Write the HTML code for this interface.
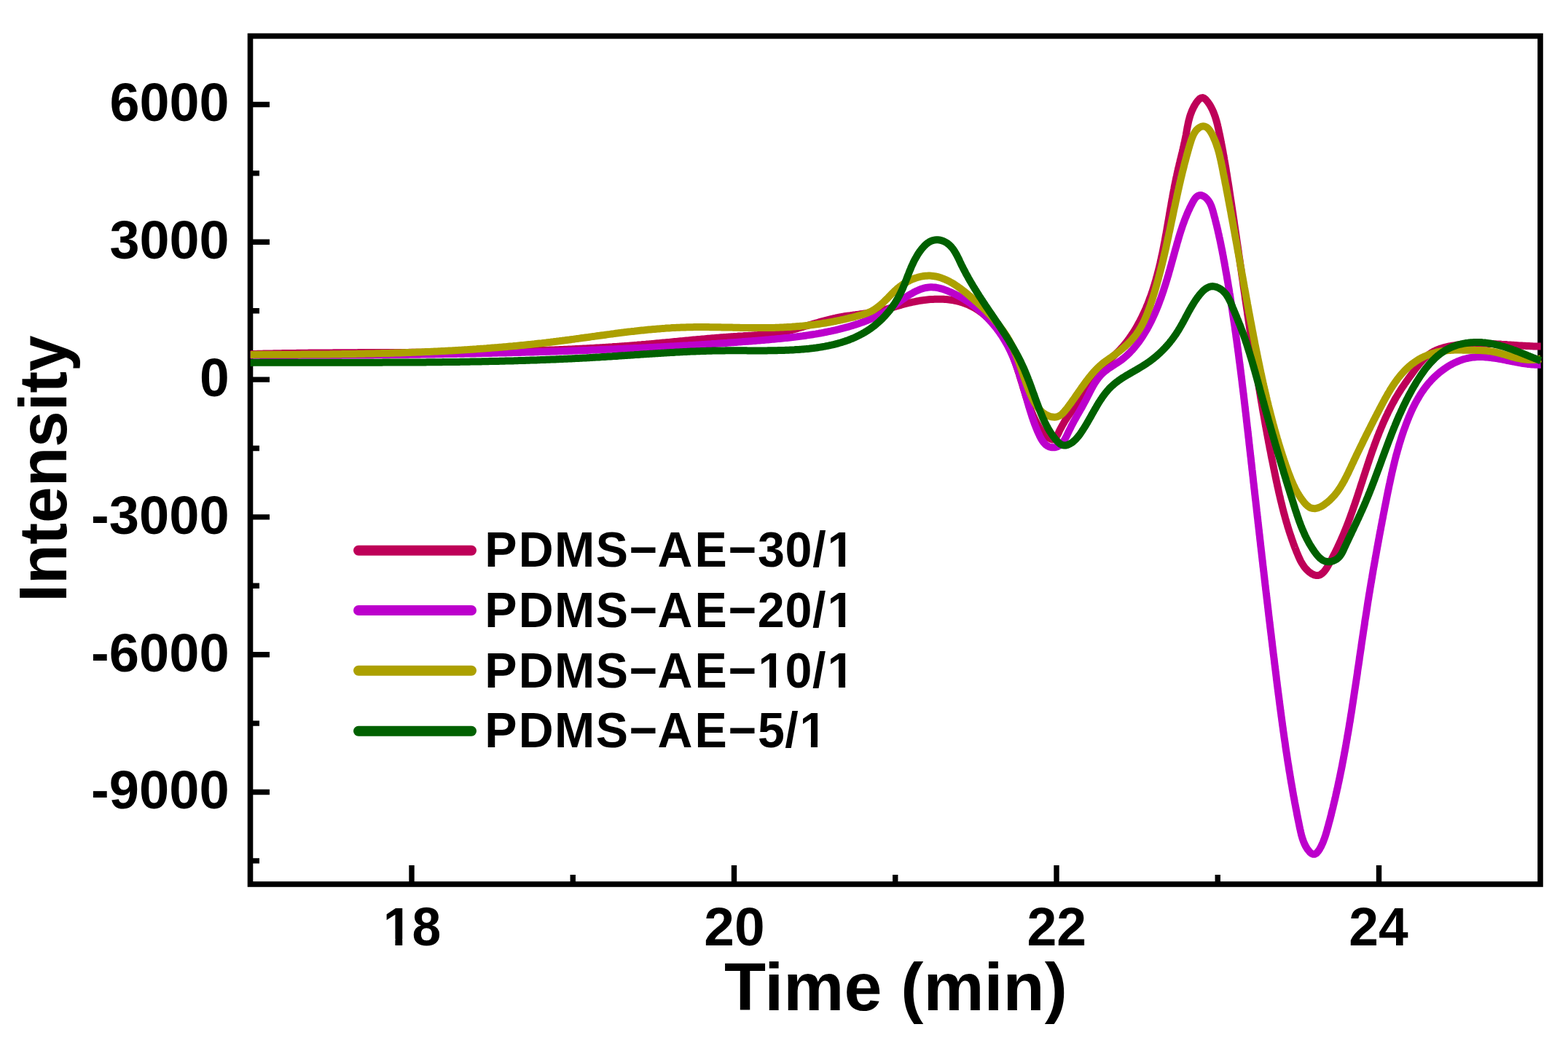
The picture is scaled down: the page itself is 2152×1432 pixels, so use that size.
<!DOCTYPE html><html><head><meta charset="utf-8"><title>GPC</title><style>html,body{margin:0;padding:0;background:#fff;}svg{display:block;}text{font-family:"Liberation Sans",Arial,sans-serif;font-weight:bold;fill:#000;}</style></head><body>
<svg width="2152" height="1432" viewBox="0 0 2152 1432">
<rect x="0" y="0" width="2152" height="1432" fill="#fff"/>
<rect x="343.5" y="49.5" width="1770.5" height="1164.5" fill="none" stroke="#000" stroke-width="7.6"/>
<path d="M343.5,143.50H370 M343.5,332.30H370 M343.5,521.10H370 M343.5,709.90H370 M343.5,898.70H370 M343.5,1087.50H370 M343.5,237.90H356 M343.5,426.70H356 M343.5,615.50H356 M343.5,804.30H356 M343.5,993.10H356 M343.5,1181.90H356 M565.00,1214.0V1188 M1007.50,1214.0V1188 M1450.00,1214.0V1188 M1892.50,1214.0V1188 M786.25,1214.0V1201 M1228.75,1214.0V1201 M1671.25,1214.0V1201" stroke="#000" stroke-width="7.4" fill="none"/>
<defs><clipPath id="nofoot"><path clip-rule="evenodd" d="M0,0H2152V1432H0Z M1138.14,770.02H1150.95V779.50H1138.14Z M1160.05,770.02H1172.02V779.50H1160.05Z M1138.19,852.79H1151.00V862.27H1138.19Z M1160.10,852.79H1172.07V862.27H1160.10Z M1043.09,935.56H1055.90V945.04H1043.09Z M1065.00,935.56H1076.97V945.04H1065.00Z M1138.19,935.56H1151.00V945.04H1138.19Z M1160.10,935.56H1172.07V945.04H1160.10Z M1100.09,1018.33H1112.90V1027.81H1100.09Z M1122.00,1018.33H1133.97V1027.81H1122.00Z M528.73,1289.31H542.41V1299.31H528.73Z M552.23,1289.31H565.00V1299.31H552.23Z"/></clipPath></defs>
<g clip-path="url(#nofoot)">
<text x="150.52" y="166.40" font-size="73.50" textLength="164.05" lengthAdjust="spacingAndGlyphs">6000</text>
<text x="150.52" y="355.20" font-size="73.50" textLength="164.05" lengthAdjust="spacingAndGlyphs">3000</text>
<text x="273.92" y="544.00" font-size="73.50" textLength="40.69" lengthAdjust="spacingAndGlyphs">0</text>
<text x="125.12" y="732.80" font-size="73.50" textLength="189.48" lengthAdjust="spacingAndGlyphs">-3000</text>
<text x="125.12" y="921.60" font-size="73.50" textLength="189.48" lengthAdjust="spacingAndGlyphs">-6000</text>
<text x="125.12" y="1110.40" font-size="73.50" textLength="189.48" lengthAdjust="spacingAndGlyphs">-9000</text>
<text x="525.72" y="1297.81" font-size="73.51" textLength="79.54" lengthAdjust="spacingAndGlyphs">18</text>
<text x="966.33" y="1297.81" font-size="73.51" textLength="83.29" lengthAdjust="spacingAndGlyphs">20</text>
<text x="1409.53" y="1297.81" font-size="73.51" textLength="81.63" lengthAdjust="spacingAndGlyphs">22</text>
<text x="1851.33" y="1297.81" font-size="73.51" textLength="81.39" lengthAdjust="spacingAndGlyphs">24</text>
<text x="993.96" y="1386.80" font-size="92.90" textLength="470.81" lengthAdjust="spacingAndGlyphs">Time (min)</text>
<text transform="translate(91.00,826.77) rotate(-90)" x="0" y="0" font-size="92.90" textLength="366.44" lengthAdjust="spacingAndGlyphs">Intensity</text>
<text transform="scale(0.9700,1)" x="685.86 733.68 784.45 843.06 890.32 930.46 982.94 1030.53 1072.15 1110.93 1149.67 1170.58" y="778.00" font-size="68.40">PDMS−AE−30/1</text>
<text transform="scale(0.9700,1)" x="685.86 733.68 784.45 843.06 890.32 930.46 982.94 1030.53 1071.83 1110.88 1149.62 1170.63" y="860.77" font-size="68.40">PDMS−AE−20/1</text>
<text transform="scale(0.9700,1)" x="685.86 733.68 784.45 843.06 890.32 930.46 982.94 1030.53 1072.59 1110.88 1149.62 1170.63" y="943.54" font-size="68.40">PDMS−AE−10/1</text>
<text transform="scale(0.9700,1)" x="685.86 733.68 784.45 843.06 890.32 930.46 982.94 1030.53 1072.06 1110.65 1131.35" y="1026.31" font-size="68.40">PDMS−AE−5/1</text>
</g>
<path d="M343.8,486.0L345.8,486.0L347.8,485.9L349.8,485.9L351.8,485.9L353.8,485.8L355.8,485.8L357.8,485.7L359.8,485.7L361.8,485.6L363.8,485.6L365.8,485.5L367.8,485.5L369.8,485.5L371.8,485.4L373.8,485.4L375.8,485.3L377.8,485.3L379.8,485.3L381.8,485.2L383.8,485.2L385.8,485.2L387.8,485.1L389.8,485.1L391.8,485.1L393.8,485.0L395.8,485.0L397.8,485.0L399.8,484.9L401.8,484.9L403.8,484.9L405.8,484.9L407.8,484.8L409.8,484.8L411.8,484.8L413.8,484.8L415.9,484.7L417.9,484.7L419.9,484.7L421.9,484.7L423.9,484.6L425.9,484.6L427.9,484.6L429.9,484.6L431.9,484.6L433.9,484.5L435.9,484.5L437.9,484.5L439.9,484.5L441.9,484.5L443.9,484.4L445.9,484.4L447.9,484.4L449.9,484.4L451.9,484.4L453.9,484.4L455.9,484.4L457.9,484.3L459.9,484.3L461.9,484.3L463.9,484.3L465.9,484.3L467.9,484.3L469.9,484.3L471.9,484.2L473.9,484.2L475.9,484.2L477.9,484.2L479.9,484.2L481.9,484.2L483.9,484.2L485.9,484.2L487.9,484.2L489.9,484.2L491.9,484.1L494.0,484.1L496.0,484.1L498.0,484.1L500.0,484.1L502.0,484.1L504.0,484.1L506.0,484.1L508.0,484.1L510.0,484.1L512.0,484.1L514.0,484.0L516.0,484.0L518.0,484.0L520.0,484.0L522.0,484.0L524.0,484.0L526.0,484.0L528.0,484.0L530.0,484.0L532.0,484.0L534.0,484.0L536.0,484.0L538.0,483.9L540.0,483.9L542.0,483.9L544.0,483.9L546.0,483.9L548.0,483.9L550.0,483.9L552.0,483.9L554.0,483.9L556.0,483.9L558.0,483.9L560.0,483.9L562.0,483.8L564.0,483.8L566.0,483.8L568.0,483.8L570.0,483.8L572.1,483.8L574.1,483.8L576.1,483.8L578.1,483.8L580.1,483.8L582.1,483.7L584.1,483.7L586.1,483.7L588.1,483.7L590.1,483.7L592.1,483.7L594.1,483.7L596.1,483.7L598.1,483.6L600.1,483.6L602.1,483.6L604.1,483.6L606.1,483.6L608.1,483.6L610.1,483.5L612.1,483.5L614.1,483.5L616.1,483.5L618.1,483.5L620.1,483.5L622.1,483.4L624.1,483.4L626.1,483.4L628.1,483.4L630.1,483.4L632.1,483.3L634.1,483.3L636.1,483.3L638.1,483.3L640.1,483.2L642.1,483.2L644.1,483.2L646.1,483.2L648.1,483.1L650.2,483.1L652.2,483.1L654.2,483.1L656.2,483.0L658.2,483.0L660.2,483.0L662.2,482.9L664.2,482.9L666.2,482.9L668.2,482.8L670.2,482.8L672.2,482.8L674.2,482.7L676.2,482.7L678.2,482.7L680.2,482.6L682.2,482.6L684.2,482.6L686.2,482.5L688.2,482.5L690.2,482.4L692.2,482.4L694.2,482.4L696.2,482.3L698.2,482.3L700.2,482.2L702.2,482.2L704.2,482.1L706.2,482.1L708.2,482.0L710.2,482.0L712.2,481.9L714.2,481.9L716.2,481.8L718.2,481.8L720.2,481.7L722.2,481.7L724.2,481.6L726.2,481.5L728.2,481.5L730.2,481.4L732.2,481.4L734.2,481.3L736.2,481.2L738.2,481.2L740.2,481.1L742.2,481.0L744.2,481.0L746.2,480.9L748.3,480.8L750.3,480.8L752.3,480.7L754.3,480.6L756.3,480.6L758.3,480.5L760.3,480.4L762.3,480.3L764.3,480.2L766.3,480.2L768.3,480.1L770.3,480.0L772.3,479.9L774.3,479.8L776.3,479.7L778.3,479.7L780.3,479.6L782.3,479.5L784.3,479.4L786.3,479.3L788.3,479.2L790.3,479.1L792.3,479.0L794.3,478.9L796.3,478.8L798.3,478.7L800.3,478.6L802.3,478.5L804.3,478.4L806.3,478.3L808.3,478.2L810.3,478.1L812.3,478.0L814.3,477.9L816.3,477.7L818.3,477.6L820.3,477.5L822.3,477.4L824.3,477.3L826.3,477.2L828.3,477.0L830.3,476.9L832.3,476.8L834.3,476.7L836.3,476.5L838.3,476.4L840.3,476.3L842.3,476.1L844.3,476.0L846.2,475.9L848.2,475.7L850.2,475.6L852.2,475.4L854.2,475.3L856.2,475.2L858.2,475.0L860.2,474.9L862.2,474.7L864.2,474.6L866.2,474.4L868.2,474.2L870.2,474.1L872.2,473.9L874.2,473.8L876.2,473.6L878.2,473.4L880.2,473.3L882.2,473.1L884.2,472.9L886.2,472.8L888.2,472.6L890.2,472.4L892.2,472.2L894.2,472.1L896.2,471.9L898.2,471.7L900.1,471.5L902.1,471.3L904.1,471.2L906.1,471.0L908.1,470.8L910.1,470.6L912.1,470.4L914.1,470.2L916.1,470.0L918.1,469.9L920.1,469.7L922.1,469.5L924.1,469.3L926.1,469.1L928.1,468.9L930.1,468.7L932.0,468.5L934.0,468.3L936.0,468.2L938.0,468.0L940.0,467.8L942.0,467.6L944.0,467.4L946.0,467.2L948.0,467.0L950.0,466.8L952.0,466.6L954.0,466.5L956.0,466.3L958.0,466.1L960.0,465.9L962.0,465.7L963.9,465.5L965.9,465.4L967.9,465.2L969.9,465.0L971.9,464.8L973.9,464.7L975.9,464.5L977.9,464.3L979.9,464.2L981.9,464.0L983.9,463.8L985.9,463.7L987.9,463.5L989.9,463.3L991.9,463.2L993.9,463.0L995.9,462.9L997.9,462.7L999.9,462.6L1001.9,462.4L1003.9,462.3L1005.9,462.2L1007.9,462.0L1009.9,461.9L1011.9,461.8L1013.9,461.6L1015.9,461.5L1017.9,461.4L1019.9,461.3L1021.9,461.1L1023.9,461.0L1025.9,460.9L1027.9,460.8L1029.9,460.7L1031.9,460.6L1033.9,460.4L1035.8,460.3L1037.8,460.2L1039.8,460.1L1041.8,459.9L1043.8,459.8L1045.8,459.6L1047.8,459.4L1049.8,459.3L1051.8,459.1L1053.8,458.9L1055.8,458.6L1057.8,458.4L1059.8,458.2L1061.8,457.9L1063.7,457.6L1065.7,457.3L1067.7,457.0L1069.7,456.7L1071.7,456.3L1073.6,456.0L1075.6,455.6L1077.5,455.2L1079.5,454.7L1081.5,454.3L1083.4,453.8L1085.3,453.3L1087.3,452.8L1089.2,452.3L1091.2,451.8L1093.1,451.3L1095.0,450.8L1096.9,450.2L1098.9,449.7L1100.8,449.1L1102.7,448.6L1104.6,448.0L1106.6,447.5L1108.5,446.9L1110.4,446.3L1112.3,445.8L1114.3,445.2L1116.2,444.6L1118.1,444.1L1120.0,443.5L1122.0,443.0L1123.9,442.4L1125.8,441.9L1127.7,441.3L1129.7,440.8L1131.6,440.3L1133.5,439.8L1135.5,439.3L1137.4,438.8L1139.4,438.3L1141.3,437.8L1143.3,437.4L1145.2,437.0L1147.2,436.5L1149.1,436.1L1151.1,435.7L1153.1,435.3L1155.0,435.0L1157.0,434.6L1159.0,434.3L1161.0,434.0L1162.9,433.7L1164.9,433.4L1166.9,433.2L1168.9,432.9L1170.9,432.6L1172.9,432.4L1174.8,432.1L1176.8,431.9L1178.8,431.6L1180.8,431.3L1182.8,431.1L1184.8,430.8L1186.8,430.5L1188.7,430.3L1190.7,430.0L1192.7,429.6L1194.7,429.3L1196.7,429.0L1198.6,428.6L1200.6,428.2L1202.5,427.8L1204.5,427.4L1206.5,427.0L1208.4,426.5L1210.4,426.0L1212.3,425.5L1214.2,425.0L1216.2,424.5L1218.1,424.0L1220.0,423.5L1222.0,422.9L1223.9,422.4L1225.8,421.8L1227.7,421.3L1229.7,420.7L1231.6,420.2L1233.5,419.6L1235.4,419.1L1237.4,418.5L1239.3,418.0L1241.2,417.5L1243.2,417.0L1245.1,416.5L1247.1,416.0L1249.0,415.5L1251.0,415.1L1252.9,414.7L1254.9,414.3L1256.8,413.9L1258.8,413.5L1260.8,413.1L1262.7,412.8L1264.7,412.5L1266.7,412.2L1268.7,411.9L1270.7,411.7L1272.7,411.5L1274.7,411.3L1276.7,411.1L1278.7,411.0L1280.7,410.9L1282.7,410.8L1284.7,410.7L1286.7,410.7L1288.7,410.7L1290.7,410.7L1292.7,410.8L1294.7,410.8L1296.7,411.0L1298.7,411.1L1300.7,411.3L1302.7,411.5L1304.6,411.8L1306.6,412.1L1308.6,412.4L1310.6,412.8L1312.5,413.2L1314.5,413.7L1316.4,414.1L1318.3,414.7L1320.3,415.3L1322.2,415.9L1324.0,416.6L1325.9,417.3L1327.8,418.0L1329.6,418.8L1331.4,419.7L1333.2,420.6L1335.0,421.5L1336.7,422.5L1338.5,423.5L1340.2,424.5L1341.9,425.6L1343.5,426.7L1345.2,427.9L1346.8,429.1L1348.4,430.3L1349.9,431.5L1351.5,432.8L1353.0,434.1L1354.5,435.5L1355.9,436.8L1357.4,438.2L1358.8,439.6L1360.2,441.1L1361.6,442.5L1362.9,444.0L1364.3,445.5L1365.6,447.0L1366.8,448.6L1368.1,450.1L1369.3,451.7L1370.5,453.3L1371.7,454.9L1372.9,456.5L1374.0,458.2L1375.1,459.9L1376.2,461.5L1377.3,463.2L1378.3,464.9L1379.3,466.7L1380.3,468.4L1381.3,470.2L1382.2,471.9L1383.2,473.7L1384.1,475.5L1384.9,477.3L1385.8,479.1L1386.6,480.9L1387.5,482.8L1388.2,484.6L1389.0,486.4L1389.8,488.3L1390.5,490.1L1391.3,492.0L1392.0,493.9L1392.7,495.8L1393.4,497.6L1394.0,499.5L1394.7,501.4L1395.3,503.3L1396.0,505.2L1396.6,507.1L1397.2,509.0L1397.8,510.9L1398.5,512.8L1399.1,514.7L1399.6,516.7L1400.2,518.6L1400.8,520.5L1401.4,522.4L1402.0,524.3L1402.6,526.2L1403.2,528.1L1403.7,530.1L1404.3,532.0L1404.9,533.9L1405.5,535.8L1406.1,537.7L1406.7,539.6L1407.3,541.5L1407.9,543.4L1408.5,545.3L1409.2,547.2L1409.8,549.1L1410.4,551.0L1411.1,552.9L1411.8,554.8L1412.5,556.7L1413.1,558.6L1413.9,560.5L1414.6,562.3L1415.3,564.2L1416.1,566.0L1416.8,567.9L1417.6,569.7L1418.4,571.6L1419.3,573.4L1420.1,575.2L1421.0,577.0L1421.9,578.8L1422.8,580.6L1423.7,582.4L1424.7,584.1L1425.7,585.9L1426.7,587.6L1427.8,589.2L1428.9,590.9L1430.1,592.5L1431.4,594.1L1432.7,595.6L1434.1,597.0L1435.6,598.4L1437.1,599.6L1438.7,600.8L1440.4,601.9L1442.2,602.8L1444.1,603.4L1446.1,603.4L1447.8,602.4L1449.1,600.9L1450.3,599.2L1451.2,597.5L1452.1,595.7L1453.0,593.9L1453.8,592.1L1454.7,590.3L1455.6,588.5L1456.6,586.7L1457.5,584.9L1458.5,583.2L1459.5,581.5L1460.5,579.7L1461.5,578.0L1462.6,576.3L1463.7,574.6L1464.8,573.0L1465.9,571.3L1467.0,569.7L1468.2,568.0L1469.3,566.4L1470.5,564.8L1471.7,563.1L1472.8,561.5L1473.9,559.8L1475.1,558.2L1476.2,556.5L1477.3,554.9L1478.4,553.2L1479.5,551.5L1480.6,549.8L1481.7,548.1L1482.8,546.5L1483.8,544.8L1484.9,543.1L1486.0,541.4L1487.0,539.7L1488.1,538.0L1489.2,536.3L1490.3,534.6L1491.4,532.9L1492.4,531.3L1493.5,529.6L1494.6,527.9L1495.8,526.2L1496.9,524.6L1498.0,522.9L1499.2,521.3L1500.3,519.7L1501.5,518.1L1502.7,516.4L1503.9,514.9L1505.2,513.3L1506.4,511.7L1507.7,510.2L1509.0,508.6L1510.3,507.1L1511.6,505.6L1513.0,504.1L1514.3,502.7L1515.7,501.2L1517.1,499.8L1518.5,498.4L1520.0,497.0L1521.4,495.6L1522.8,494.2L1524.3,492.8L1525.7,491.4L1527.2,490.0L1528.6,488.6L1530.0,487.2L1531.5,485.8L1532.9,484.4L1534.3,483.0L1535.7,481.6L1537.1,480.1L1538.4,478.7L1539.8,477.2L1541.1,475.7L1542.4,474.2L1543.7,472.6L1545.0,471.1L1546.2,469.5L1547.4,467.9L1548.6,466.3L1549.8,464.7L1551.0,463.0L1552.1,461.4L1553.2,459.7L1554.3,458.1L1555.4,456.4L1556.5,454.7L1557.5,453.0L1558.6,451.3L1559.6,449.5L1560.6,447.8L1561.5,446.1L1562.5,444.3L1563.5,442.5L1564.4,440.8L1565.3,439.0L1566.2,437.2L1567.1,435.4L1568.0,433.6L1568.9,431.8L1569.7,430.0L1570.5,428.2L1571.4,426.3L1572.2,424.5L1573.0,422.7L1573.7,420.8L1574.5,419.0L1575.3,417.1L1576.0,415.3L1576.7,413.4L1577.4,411.5L1578.1,409.6L1578.8,407.8L1579.5,405.9L1580.2,404.0L1580.8,402.1L1581.5,400.2L1582.1,398.3L1582.7,396.4L1583.3,394.5L1583.9,392.6L1584.5,390.7L1585.1,388.7L1585.6,386.8L1586.2,384.9L1586.7,383.0L1587.3,381.0L1587.8,379.1L1588.3,377.2L1588.8,375.2L1589.3,373.3L1589.8,371.4L1590.3,369.4L1590.8,367.5L1591.3,365.5L1591.7,363.6L1592.2,361.6L1592.6,359.7L1593.1,357.7L1593.5,355.8L1593.9,353.8L1594.4,351.8L1594.8,349.9L1595.2,347.9L1595.6,346.0L1596.0,344.0L1596.4,342.0L1596.8,340.1L1597.2,338.1L1597.5,336.1L1597.9,334.2L1598.3,332.2L1598.7,330.2L1599.0,328.3L1599.4,326.3L1599.7,324.3L1600.1,322.4L1600.5,320.4L1600.8,318.4L1601.2,316.5L1601.5,314.5L1601.8,312.5L1602.2,310.5L1602.5,308.6L1602.9,306.6L1603.2,304.6L1603.6,302.6L1603.9,300.7L1604.2,298.7L1604.6,296.7L1604.9,294.7L1605.2,292.8L1605.6,290.8L1605.9,288.8L1606.3,286.8L1606.6,284.9L1607.0,282.9L1607.3,280.9L1607.6,279.0L1608.0,277.0L1608.3,275.0L1608.7,273.0L1609.1,271.1L1609.4,269.1L1609.8,267.1L1610.1,265.2L1610.5,263.2L1610.9,261.2L1611.3,259.3L1611.6,257.3L1612.0,255.3L1612.4,253.4L1612.8,251.4L1613.2,249.4L1613.6,247.5L1614.0,245.5L1614.4,243.6L1614.9,241.6L1615.3,239.6L1615.7,237.7L1616.2,235.7L1616.6,233.8L1617.1,231.8L1617.5,229.9L1618.0,227.9L1618.4,226.0L1618.9,224.0L1619.4,222.1L1619.8,220.1L1620.3,218.2L1620.8,216.3L1621.3,214.3L1621.7,212.4L1622.2,210.4L1622.7,208.5L1623.1,206.5L1623.6,204.6L1624.0,202.6L1624.5,200.7L1624.9,198.7L1625.3,196.7L1625.8,194.8L1626.2,192.8L1626.6,190.9L1627.0,188.9L1627.4,186.9L1627.8,185.0L1628.1,183.0L1628.5,181.0L1628.8,179.1L1629.2,177.1L1629.5,175.1L1629.9,173.2L1630.3,171.2L1630.7,169.2L1631.1,167.3L1631.6,165.3L1632.1,163.4L1632.6,161.5L1633.2,159.5L1633.8,157.6L1634.5,155.7L1635.2,153.9L1635.9,152.0L1636.8,150.2L1637.6,148.4L1638.5,146.6L1639.5,144.9L1640.5,143.1L1641.6,141.4L1642.7,139.8L1644.0,138.2L1645.3,136.7L1646.8,135.4L1648.6,134.4L1650.5,134.1L1652.4,134.7L1654.0,135.9L1655.4,137.3L1656.7,138.9L1657.9,140.4L1659.1,142.1L1660.2,143.7L1661.2,145.4L1662.2,147.2L1663.1,149.0L1664.0,150.8L1664.8,152.6L1665.6,154.4L1666.3,156.3L1667.0,158.2L1667.7,160.1L1668.3,162.0L1668.9,163.9L1669.4,165.8L1670.0,167.8L1670.5,169.7L1671.0,171.6L1671.4,173.6L1671.9,175.5L1672.3,177.5L1672.7,179.4L1673.1,181.4L1673.6,183.4L1674.0,185.3L1674.4,187.3L1674.8,189.2L1675.2,191.2L1675.6,193.2L1675.9,195.1L1676.3,197.1L1676.7,199.1L1677.1,201.0L1677.5,203.0L1677.8,205.0L1678.2,206.9L1678.6,208.9L1678.9,210.9L1679.3,212.9L1679.6,214.8L1680.0,216.8L1680.3,218.8L1680.7,220.7L1681.0,222.7L1681.4,224.7L1681.7,226.7L1682.0,228.6L1682.4,230.6L1682.7,232.6L1683.0,234.6L1683.3,236.5L1683.7,238.5L1684.0,240.5L1684.3,242.5L1684.6,244.4L1684.9,246.4L1685.2,248.4L1685.6,250.4L1685.9,252.4L1686.2,254.3L1686.5,256.3L1686.8,258.3L1687.1,260.3L1687.4,262.3L1687.7,264.2L1688.0,266.2L1688.3,268.2L1688.6,270.2L1688.9,272.2L1689.2,274.1L1689.5,276.1L1689.8,278.1L1690.1,280.1L1690.4,282.1L1690.7,284.0L1691.0,286.0L1691.3,288.0L1691.6,290.0L1691.9,292.0L1692.2,293.9L1692.5,295.9L1692.8,297.9L1693.1,299.9L1693.4,301.9L1693.7,303.8L1693.9,305.8L1694.2,307.8L1694.5,309.8L1694.8,311.8L1695.1,313.7L1695.4,315.7L1695.7,317.7L1696.0,319.7L1696.3,321.7L1696.6,323.7L1696.9,325.6L1697.1,327.6L1697.4,329.6L1697.7,331.6L1698.0,333.6L1698.3,335.5L1698.6,337.5L1698.9,339.5L1699.2,341.5L1699.5,343.5L1699.7,345.5L1700.0,347.4L1700.3,349.4L1700.6,351.4L1700.9,353.4L1701.2,355.4L1701.5,357.3L1701.8,359.3L1702.0,361.3L1702.3,363.3L1702.6,365.3L1702.9,367.3L1703.2,369.2L1703.5,371.2L1703.8,373.2L1704.0,375.2L1704.3,377.2L1704.6,379.1L1704.9,381.1L1705.2,383.1L1705.5,385.1L1705.8,387.1L1706.1,389.1L1706.3,391.0L1706.6,393.0L1706.9,395.0L1707.2,397.0L1707.5,399.0L1707.8,400.9L1708.1,402.9L1708.4,404.9L1708.7,406.9L1708.9,408.9L1709.2,410.9L1709.5,412.8L1709.8,414.8L1710.1,416.8L1710.4,418.8L1710.7,420.8L1711.0,422.7L1711.3,424.7L1711.6,426.7L1711.9,428.7L1712.1,430.7L1712.4,432.6L1712.7,434.6L1713.0,436.6L1713.3,438.6L1713.6,440.6L1713.9,442.6L1714.2,444.5L1714.5,446.5L1714.8,448.5L1715.1,450.5L1715.4,452.5L1715.7,454.4L1716.0,456.4L1716.3,458.4L1716.6,460.4L1716.9,462.4L1717.2,464.3L1717.5,466.3L1717.8,468.3L1718.1,470.3L1718.4,472.3L1718.7,474.2L1719.0,476.2L1719.3,478.2L1719.6,480.2L1719.9,482.2L1720.2,484.1L1720.5,486.1L1720.8,488.1L1721.2,490.1L1721.5,492.0L1721.8,494.0L1722.1,496.0L1722.4,498.0L1722.7,500.0L1723.0,501.9L1723.3,503.9L1723.6,505.9L1724.0,507.9L1724.3,509.8L1724.6,511.8L1724.9,513.8L1725.2,515.8L1725.6,517.8L1725.9,519.7L1726.2,521.7L1726.5,523.7L1726.8,525.7L1727.2,527.6L1727.5,529.6L1727.8,531.6L1728.1,533.6L1728.5,535.5L1728.8,537.5L1729.1,539.5L1729.5,541.5L1729.8,543.4L1730.1,545.4L1730.5,547.4L1730.8,549.4L1731.1,551.3L1731.5,553.3L1731.8,555.3L1732.2,557.3L1732.5,559.2L1732.8,561.2L1733.2,563.2L1733.5,565.2L1733.9,567.1L1734.2,569.1L1734.6,571.1L1734.9,573.0L1735.3,575.0L1735.6,577.0L1736.0,579.0L1736.3,580.9L1736.7,582.9L1737.0,584.9L1737.4,586.8L1737.7,588.8L1738.1,590.8L1738.5,592.8L1738.8,594.7L1739.2,596.7L1739.6,598.7L1739.9,600.6L1740.3,602.6L1740.7,604.6L1741.0,606.5L1741.4,608.5L1741.8,610.5L1742.2,612.4L1742.5,614.4L1742.9,616.4L1743.3,618.3L1743.7,620.3L1744.1,622.3L1744.4,624.2L1744.8,626.2L1745.2,628.2L1745.6,630.1L1746.0,632.1L1746.4,634.1L1746.8,636.0L1747.2,638.0L1747.6,639.9L1748.0,641.9L1748.4,643.9L1748.8,645.8L1749.2,647.8L1749.6,649.8L1750.0,651.7L1750.4,653.7L1750.8,655.6L1751.2,657.6L1751.6,659.6L1752.0,661.5L1752.5,663.5L1752.9,665.4L1753.3,667.4L1753.7,669.3L1754.2,671.3L1754.6,673.3L1755.0,675.2L1755.5,677.2L1755.9,679.1L1756.4,681.1L1756.8,683.0L1757.3,685.0L1757.7,686.9L1758.2,688.9L1758.7,690.8L1759.2,692.8L1759.6,694.7L1760.1,696.6L1760.6,698.6L1761.1,700.5L1761.6,702.5L1762.1,704.4L1762.6,706.3L1763.2,708.3L1763.7,710.2L1764.2,712.1L1764.8,714.1L1765.3,716.0L1765.9,717.9L1766.5,719.8L1767.0,721.7L1767.6,723.7L1768.2,725.6L1768.8,727.5L1769.4,729.4L1770.0,731.3L1770.6,733.2L1771.3,735.1L1771.9,737.0L1772.6,738.9L1773.2,740.8L1773.9,742.7L1774.6,744.6L1775.2,746.4L1775.9,748.3L1776.6,750.2L1777.3,752.1L1778.1,753.9L1778.8,755.8L1779.5,757.7L1780.3,759.5L1781.1,761.4L1781.8,763.2L1782.6,765.0L1783.5,766.9L1784.3,768.7L1785.2,770.5L1786.2,772.2L1787.2,773.9L1788.3,775.6L1789.4,777.3L1790.6,778.9L1791.9,780.4L1793.2,781.9L1794.6,783.3L1796.1,784.7L1797.7,785.9L1799.3,787.1L1801.0,788.1L1802.8,789.0L1804.7,789.7L1806.7,790.1L1808.7,790.1L1810.6,789.7L1812.4,788.9L1814.1,787.7L1815.6,786.4L1817.0,785.0L1818.3,783.4L1819.5,781.8L1820.6,780.2L1821.6,778.5L1822.7,776.7L1823.6,775.0L1824.6,773.2L1825.6,771.5L1826.5,769.7L1827.5,768.0L1828.4,766.2L1829.3,764.4L1830.2,762.6L1831.2,760.8L1832.1,759.1L1833.0,757.3L1833.8,755.5L1834.7,753.7L1835.6,751.9L1836.4,750.1L1837.3,748.2L1838.1,746.4L1839.0,744.6L1839.8,742.8L1840.6,740.9L1841.4,739.1L1842.2,737.3L1843.0,735.4L1843.8,733.6L1844.6,731.7L1845.3,729.9L1846.1,728.0L1846.8,726.2L1847.6,724.3L1848.3,722.5L1849.0,720.6L1849.8,718.7L1850.5,716.9L1851.2,715.0L1851.9,713.1L1852.6,711.2L1853.3,709.4L1853.9,707.5L1854.6,705.6L1855.3,703.7L1856.0,701.8L1856.6,699.9L1857.3,698.0L1857.9,696.1L1858.6,694.2L1859.2,692.4L1859.9,690.5L1860.5,688.6L1861.2,686.7L1861.8,684.8L1862.4,682.9L1863.1,681.0L1863.7,679.1L1864.3,677.2L1864.9,675.2L1865.6,673.3L1866.2,671.4L1866.8,669.5L1867.4,667.6L1868.0,665.7L1868.6,663.8L1869.3,661.9L1869.9,660.0L1870.5,658.1L1871.1,656.2L1871.7,654.3L1872.3,652.4L1873.0,650.5L1873.6,648.6L1874.2,646.7L1874.8,644.8L1875.5,642.9L1876.1,641.0L1876.7,639.1L1877.3,637.2L1878.0,635.3L1878.6,633.4L1879.2,631.5L1879.9,629.6L1880.5,627.7L1881.2,625.8L1881.8,623.9L1882.5,622.0L1883.1,620.1L1883.8,618.2L1884.5,616.3L1885.2,614.4L1885.8,612.6L1886.5,610.7L1887.2,608.8L1887.9,606.9L1888.6,605.0L1889.3,603.2L1890.0,601.3L1890.7,599.4L1891.5,597.6L1892.2,595.7L1892.9,593.8L1893.7,592.0L1894.5,590.1L1895.2,588.3L1896.0,586.4L1896.8,584.6L1897.5,582.7L1898.3,580.9L1899.1,579.1L1900.0,577.2L1900.8,575.4L1901.6,573.6L1902.5,571.8L1903.3,570.0L1904.2,568.2L1905.0,566.3L1905.9,564.5L1906.8,562.8L1907.7,561.0L1908.6,559.2L1909.5,557.4L1910.5,555.6L1911.4,553.9L1912.4,552.1L1913.4,550.4L1914.3,548.6L1915.3,546.9L1916.3,545.1L1917.4,543.4L1918.4,541.7L1919.4,540.0L1920.5,538.3L1921.6,536.6L1922.6,534.9L1923.7,533.2L1924.8,531.6L1926.0,529.9L1927.1,528.3L1928.2,526.6L1929.4,525.0L1930.5,523.3L1931.7,521.7L1932.8,520.1L1934.0,518.4L1935.2,516.8L1936.4,515.2L1937.6,513.6L1938.7,512.0L1939.9,510.4L1941.1,508.7L1942.3,507.1L1943.5,505.5L1944.7,503.9L1946.0,502.4L1947.2,500.8L1948.5,499.2L1949.8,497.7L1951.1,496.2L1952.4,494.7L1953.8,493.3L1955.2,491.8L1956.7,490.5L1958.1,489.1L1959.7,487.8L1961.3,486.6L1962.9,485.4L1964.6,484.3L1966.3,483.3L1968.0,482.3L1969.8,481.5L1971.7,480.6L1973.5,479.9L1975.4,479.2L1977.3,478.5L1979.2,477.9L1981.1,477.3L1983.0,476.8L1985.0,476.3L1986.9,475.9L1988.9,475.5L1990.9,475.1L1992.8,474.7L1994.8,474.4L1996.8,474.1L1998.8,473.8L2000.7,473.5L2002.7,473.2L2004.7,473.0L2006.7,472.8L2008.7,472.6L2010.7,472.4L2012.7,472.3L2014.7,472.1L2016.7,472.0L2018.7,471.9L2020.7,471.8L2022.7,471.8L2024.7,471.7L2026.7,471.7L2028.7,471.7L2030.7,471.7L2032.7,471.7L2034.7,471.7L2036.7,471.7L2038.7,471.8L2040.7,471.8L2042.7,471.9L2044.7,471.9L2046.7,472.0L2048.7,472.1L2050.7,472.2L2052.7,472.3L2054.7,472.4L2056.7,472.5L2058.7,472.6L2060.7,472.8L2062.7,472.9L2064.7,473.0L2066.7,473.1L2068.7,473.3L2070.7,473.4L2072.7,473.5L2074.7,473.7L2076.7,473.8L2078.7,474.0L2080.7,474.1L2082.7,474.2L2084.7,474.4L2086.7,474.5L2088.7,474.6L2090.7,474.7L2092.7,474.8L2094.7,475.0L2096.7,475.1L2098.7,475.1L2100.7,475.2L2102.7,475.3L2104.7,475.4L2106.7,475.5L2108.7,475.5L2110.7,475.5L2112.7,475.6L2114.7,475.6" fill="none" stroke="#BE0058" stroke-width="10.0" stroke-linejoin="round" stroke-linecap="butt"/>
<path d="M343.7,487.8L345.7,487.8L347.8,487.8L349.8,487.8L351.8,487.8L353.8,487.8L355.8,487.8L357.8,487.9L359.8,487.9L361.8,487.9L363.8,487.9L365.8,487.9L367.8,487.9L369.8,487.9L371.8,487.9L373.8,487.9L375.8,487.9L377.8,487.9L379.8,487.9L381.8,487.9L383.8,487.9L385.8,487.9L387.8,487.9L389.8,487.9L391.8,487.9L393.8,487.9L395.8,487.9L397.8,487.9L399.8,487.9L401.8,487.9L403.8,487.9L405.8,487.9L407.8,487.9L409.8,487.8L411.8,487.8L413.8,487.8L415.8,487.8L417.8,487.8L419.8,487.8L421.8,487.8L423.8,487.8L425.8,487.8L427.8,487.8L429.8,487.8L431.8,487.8L433.8,487.8L435.9,487.8L437.9,487.8L439.9,487.8L441.9,487.8L443.9,487.8L445.9,487.8L447.9,487.7L449.9,487.7L451.9,487.7L453.9,487.7L455.9,487.7L457.9,487.7L459.9,487.7L461.9,487.7L463.9,487.7L465.9,487.7L467.9,487.7L469.9,487.6L471.9,487.6L473.9,487.6L475.9,487.6L477.9,487.6L479.9,487.6L481.9,487.6L483.9,487.6L485.9,487.5L487.9,487.5L489.9,487.5L491.9,487.5L493.9,487.5L495.9,487.5L497.9,487.5L499.9,487.5L501.9,487.4L503.9,487.4L505.9,487.4L507.9,487.4L509.9,487.4L511.9,487.4L513.9,487.3L515.9,487.3L517.9,487.3L519.9,487.3L521.9,487.3L523.9,487.2L526.0,487.2L528.0,487.2L530.0,487.2L532.0,487.2L534.0,487.2L536.0,487.1L538.0,487.1L540.0,487.1L542.0,487.1L544.0,487.0L546.0,487.0L548.0,487.0L550.0,487.0L552.0,487.0L554.0,486.9L556.0,486.9L558.0,486.9L560.0,486.9L562.0,486.8L564.0,486.8L566.0,486.8L568.0,486.8L570.0,486.7L572.0,486.7L574.0,486.7L576.0,486.7L578.0,486.6L580.0,486.6L582.0,486.6L584.0,486.5L586.0,486.5L588.0,486.5L590.0,486.5L592.0,486.4L594.0,486.4L596.0,486.4L598.0,486.3L600.0,486.3L602.0,486.3L604.0,486.2L606.0,486.2L608.0,486.2L610.0,486.1L612.0,486.1L614.0,486.1L616.0,486.0L618.0,486.0L620.0,486.0L622.1,485.9L624.1,485.9L626.1,485.9L628.1,485.8L630.1,485.8L632.1,485.7L634.1,485.7L636.1,485.7L638.1,485.6L640.1,485.6L642.1,485.6L644.1,485.5L646.1,485.5L648.1,485.4L650.1,485.4L652.1,485.4L654.1,485.3L656.1,485.3L658.1,485.2L660.1,485.2L662.1,485.1L664.1,485.1L666.1,485.1L668.1,485.0L670.1,485.0L672.1,484.9L674.1,484.9L676.1,484.8L678.1,484.8L680.1,484.7L682.1,484.7L684.1,484.6L686.1,484.6L688.1,484.5L690.1,484.5L692.1,484.4L694.1,484.4L696.1,484.3L698.1,484.3L700.1,484.2L702.1,484.2L704.1,484.1L706.1,484.1L708.1,484.0L710.1,484.0L712.1,483.9L714.1,483.9L716.1,483.8L718.1,483.8L720.1,483.7L722.1,483.6L724.1,483.6L726.1,483.5L728.1,483.5L730.1,483.4L732.1,483.4L734.1,483.3L736.1,483.2L738.1,483.2L740.2,483.1L742.2,483.1L744.2,483.0L746.2,482.9L748.2,482.9L750.2,482.8L752.2,482.7L754.2,482.7L756.2,482.6L758.2,482.6L760.2,482.5L762.2,482.4L764.2,482.4L766.2,482.3L768.2,482.2L770.2,482.2L772.2,482.1L774.2,482.0L776.2,481.9L778.2,481.9L780.2,481.8L782.2,481.7L784.2,481.7L786.2,481.6L788.2,481.5L790.2,481.5L792.2,481.4L794.2,481.3L796.2,481.2L798.2,481.2L800.2,481.1L802.2,481.0L804.2,480.9L806.2,480.9L808.2,480.8L810.2,480.7L812.2,480.6L814.2,480.5L816.2,480.5L818.2,480.4L820.2,480.3L822.2,480.2L824.2,480.1L826.2,480.1L828.2,480.0L830.2,479.9L832.2,479.8L834.2,479.7L836.2,479.7L838.2,479.6L840.2,479.5L842.2,479.4L844.2,479.3L846.2,479.2L848.2,479.1L850.2,479.0L852.2,479.0L854.2,478.9L856.2,478.8L858.2,478.7L860.2,478.6L862.2,478.5L864.2,478.4L866.2,478.3L868.2,478.2L870.2,478.1L872.2,478.0L874.2,478.0L876.2,477.9L878.2,477.8L880.2,477.7L882.2,477.6L884.2,477.5L886.2,477.4L888.2,477.3L890.2,477.2L892.2,477.1L894.2,477.0L896.2,476.9L898.2,476.8L900.2,476.7L902.2,476.6L904.2,476.5L906.2,476.4L908.2,476.3L910.2,476.2L912.2,476.0L914.2,475.9L916.2,475.8L918.2,475.7L920.2,475.6L922.2,475.5L924.2,475.4L926.2,475.3L928.2,475.2L930.2,475.1L932.2,475.0L934.2,474.8L936.2,474.7L938.2,474.6L940.2,474.5L942.2,474.4L944.2,474.3L946.2,474.1L948.2,474.0L950.2,473.9L952.2,473.8L954.2,473.7L956.2,473.5L958.2,473.4L960.2,473.3L962.2,473.2L964.2,473.0L966.2,472.9L968.2,472.8L970.2,472.7L972.2,472.5L974.2,472.4L976.2,472.3L978.2,472.1L980.2,472.0L982.2,471.9L984.1,471.7L986.1,471.6L988.1,471.5L990.1,471.3L992.1,471.2L994.1,471.0L996.1,470.9L998.1,470.8L1000.1,470.6L1002.1,470.5L1004.1,470.3L1006.1,470.2L1008.1,470.0L1010.1,469.9L1012.1,469.7L1014.1,469.6L1016.1,469.4L1018.1,469.3L1020.1,469.1L1022.1,469.0L1024.1,468.8L1026.1,468.7L1028.1,468.5L1030.1,468.4L1032.1,468.2L1034.1,468.0L1036.1,467.9L1038.1,467.7L1040.1,467.6L1042.1,467.4L1044.0,467.2L1046.0,467.1L1048.0,466.9L1050.0,466.7L1052.0,466.5L1054.0,466.4L1056.0,466.2L1058.0,466.0L1060.0,465.8L1062.0,465.7L1064.0,465.5L1066.0,465.3L1068.0,465.1L1070.0,464.9L1072.0,464.7L1074.0,464.5L1075.9,464.3L1077.9,464.1L1079.9,463.9L1081.9,463.7L1083.9,463.5L1085.9,463.2L1087.9,463.0L1089.9,462.8L1091.9,462.5L1093.9,462.3L1095.8,462.0L1097.8,461.8L1099.8,461.5L1101.8,461.3L1103.8,461.0L1105.8,460.7L1107.7,460.4L1109.7,460.1L1111.7,459.8L1113.7,459.5L1115.7,459.2L1117.6,458.9L1119.6,458.6L1121.6,458.2L1123.6,457.9L1125.5,457.5L1127.5,457.2L1129.5,456.8L1131.4,456.4L1133.4,456.0L1135.4,455.6L1137.3,455.2L1139.3,454.8L1141.2,454.4L1143.2,454.0L1145.2,453.5L1147.1,453.1L1149.1,452.6L1151.0,452.2L1152.9,451.7L1154.9,451.2L1156.8,450.7L1158.8,450.2L1160.7,449.6L1162.6,449.1L1164.5,448.6L1166.5,448.0L1168.4,447.4L1170.3,446.9L1172.2,446.3L1174.1,445.7L1176.0,445.0L1177.9,444.4L1179.8,443.8L1181.7,443.1L1183.6,442.5L1185.5,441.8L1187.4,441.1L1189.2,440.4L1191.1,439.6L1193.0,438.9L1194.8,438.1L1196.7,437.4L1198.5,436.6L1200.3,435.7L1202.1,434.9L1203.9,434.0L1205.7,433.1L1207.5,432.2L1209.3,431.3L1211.0,430.3L1212.8,429.3L1214.5,428.3L1216.2,427.2L1217.9,426.2L1219.6,425.1L1221.2,423.9L1222.9,422.8L1224.5,421.6L1226.1,420.5L1227.7,419.3L1229.3,418.1L1231.0,416.9L1232.6,415.7L1234.2,414.5L1235.8,413.3L1237.4,412.1L1239.0,411.0L1240.7,409.8L1242.3,408.7L1244.0,407.5L1245.6,406.4L1247.3,405.4L1249.0,404.3L1250.7,403.3L1252.5,402.3L1254.2,401.3L1256.0,400.4L1257.8,399.5L1259.6,398.7L1261.5,397.9L1263.3,397.2L1265.2,396.5L1267.1,395.9L1269.1,395.4L1271.0,395.0L1273.0,394.7L1275.0,394.4L1277.0,394.3L1279.0,394.3L1281.0,394.4L1283.0,394.5L1285.0,394.8L1286.9,395.2L1288.9,395.6L1290.8,396.1L1292.8,396.6L1294.7,397.2L1296.6,397.9L1298.4,398.6L1300.3,399.3L1302.2,400.1L1304.0,400.8L1305.8,401.6L1307.7,402.5L1309.5,403.3L1311.3,404.2L1313.1,405.1L1314.8,406.0L1316.6,407.0L1318.3,408.0L1320.1,409.0L1321.8,410.0L1323.5,411.0L1325.2,412.1L1326.9,413.1L1328.6,414.2L1330.2,415.4L1331.9,416.5L1333.5,417.7L1335.1,418.9L1336.7,420.1L1338.3,421.3L1339.9,422.5L1341.4,423.8L1343.0,425.1L1344.5,426.4L1346.0,427.7L1347.5,429.0L1349.0,430.4L1350.4,431.8L1351.9,433.2L1353.3,434.6L1354.7,436.0L1356.1,437.4L1357.4,438.9L1358.8,440.4L1360.1,441.9L1361.5,443.4L1362.8,444.9L1364.0,446.4L1365.3,448.0L1366.6,449.5L1367.8,451.1L1369.0,452.7L1370.2,454.3L1371.4,455.9L1372.5,457.6L1373.6,459.2L1374.8,460.9L1375.9,462.6L1376.9,464.3L1378.0,466.0L1379.0,467.7L1380.0,469.4L1381.0,471.1L1382.0,472.9L1383.0,474.6L1383.9,476.4L1384.8,478.2L1385.7,480.0L1386.6,481.8L1387.4,483.6L1388.3,485.4L1389.1,487.2L1389.9,489.1L1390.7,490.9L1391.5,492.8L1392.2,494.6L1392.9,496.5L1393.7,498.4L1394.4,500.2L1395.1,502.1L1395.7,504.0L1396.4,505.9L1397.1,507.8L1397.7,509.7L1398.4,511.6L1399.0,513.5L1399.6,515.4L1400.2,517.3L1400.8,519.2L1401.4,521.1L1402.0,523.0L1402.6,524.9L1403.1,526.9L1403.7,528.8L1404.2,530.7L1404.8,532.6L1405.4,534.5L1405.9,536.5L1406.5,538.4L1407.0,540.3L1407.5,542.3L1408.1,544.2L1408.6,546.1L1409.2,548.0L1409.7,550.0L1410.3,551.9L1410.8,553.8L1411.4,555.7L1411.9,557.7L1412.5,559.6L1413.1,561.5L1413.7,563.4L1414.3,565.3L1414.9,567.2L1415.5,569.1L1416.1,571.0L1416.7,572.9L1417.4,574.8L1418.0,576.7L1418.7,578.6L1419.4,580.5L1420.1,582.4L1420.8,584.2L1421.5,586.1L1422.3,588.0L1423.0,589.8L1423.8,591.7L1424.6,593.5L1425.4,595.3L1426.3,597.1L1427.1,599.0L1428.0,600.7L1429.0,602.5L1430.0,604.2L1431.1,605.9L1432.4,607.5L1433.7,609.0L1435.1,610.4L1436.7,611.6L1438.4,612.6L1440.2,613.5L1442.1,614.0L1444.1,614.3L1446.1,614.3L1448.1,614.2L1450.1,613.7L1451.9,613.0L1453.7,612.0L1455.3,610.9L1456.8,609.5L1458.1,608.0L1459.3,606.4L1460.4,604.8L1461.5,603.0L1462.4,601.3L1463.4,599.5L1464.3,597.7L1465.1,595.9L1466.0,594.1L1466.8,592.3L1467.7,590.5L1468.6,588.7L1469.5,586.9L1470.4,585.1L1471.3,583.3L1472.2,581.6L1473.2,579.8L1474.1,578.0L1475.1,576.3L1476.1,574.5L1477.0,572.8L1478.0,571.0L1479.0,569.3L1480.0,567.6L1481.0,565.8L1482.0,564.1L1483.0,562.3L1484.0,560.6L1485.0,558.9L1485.9,557.1L1486.9,555.4L1487.9,553.6L1488.8,551.8L1489.8,550.1L1490.7,548.3L1491.6,546.5L1492.5,544.7L1493.4,543.0L1494.3,541.2L1495.2,539.4L1496.1,537.6L1497.1,535.8L1498.0,534.0L1499.0,532.3L1499.9,530.5L1500.9,528.8L1501.9,527.1L1503.0,525.4L1504.1,523.7L1505.2,522.0L1506.4,520.4L1507.6,518.8L1508.9,517.3L1510.2,515.7L1511.5,514.3L1512.9,512.9L1514.4,511.5L1515.9,510.2L1517.5,508.9L1519.1,507.7L1520.7,506.5L1522.3,505.4L1524.0,504.3L1525.7,503.2L1527.3,502.1L1529.0,501.0L1530.7,499.9L1532.4,498.8L1534.1,497.7L1535.7,496.6L1537.4,495.4L1539.0,494.3L1540.6,493.0L1542.1,491.8L1543.7,490.5L1545.2,489.2L1546.7,487.9L1548.1,486.5L1549.6,485.1L1551.0,483.7L1552.4,482.2L1553.7,480.8L1555.1,479.3L1556.4,477.8L1557.7,476.2L1558.9,474.7L1560.2,473.1L1561.4,471.5L1562.6,469.9L1563.8,468.3L1564.9,466.7L1566.0,465.0L1567.2,463.3L1568.3,461.7L1569.3,460.0L1570.4,458.3L1571.4,456.6L1572.5,454.9L1573.5,453.1L1574.5,451.4L1575.4,449.6L1576.4,447.9L1577.3,446.1L1578.3,444.3L1579.2,442.5L1580.1,440.8L1580.9,439.0L1581.8,437.1L1582.7,435.3L1583.5,433.5L1584.3,431.7L1585.1,429.9L1585.9,428.0L1586.7,426.2L1587.5,424.3L1588.2,422.5L1589.0,420.6L1589.7,418.8L1590.4,416.9L1591.1,415.0L1591.8,413.1L1592.5,411.3L1593.2,409.4L1593.9,407.5L1594.5,405.6L1595.2,403.7L1595.8,401.8L1596.5,399.9L1597.1,398.0L1597.7,396.1L1598.3,394.2L1598.9,392.3L1599.5,390.4L1600.1,388.5L1600.7,386.5L1601.3,384.6L1601.9,382.7L1602.4,380.8L1603.0,378.9L1603.6,377.0L1604.1,375.0L1604.7,373.1L1605.2,371.2L1605.8,369.3L1606.3,367.3L1606.8,365.4L1607.4,363.5L1607.9,361.5L1608.5,359.6L1609.0,357.7L1609.5,355.8L1610.1,353.8L1610.6,351.9L1611.1,350.0L1611.7,348.0L1612.2,346.1L1612.7,344.2L1613.3,342.2L1613.8,340.3L1614.4,338.4L1614.9,336.5L1615.4,334.5L1616.0,332.6L1616.6,330.7L1617.1,328.8L1617.7,326.8L1618.2,324.9L1618.8,323.0L1619.4,321.1L1620.0,319.2L1620.6,317.3L1621.2,315.4L1621.9,313.5L1622.5,311.6L1623.1,309.7L1623.8,307.8L1624.5,305.9L1625.2,304.0L1625.9,302.1L1626.6,300.3L1627.3,298.4L1628.1,296.6L1628.8,294.7L1629.6,292.9L1630.4,291.0L1631.2,289.2L1632.1,287.4L1632.9,285.6L1633.8,283.8L1634.7,282.0L1635.6,280.2L1636.5,278.4L1637.5,276.6L1638.5,274.9L1639.6,273.2L1640.8,271.7L1642.2,270.2L1643.8,269.0L1645.6,268.2L1647.6,268.0L1649.5,268.3L1651.4,269.1L1653.1,270.1L1654.7,271.3L1656.2,272.7L1657.5,274.2L1658.7,275.8L1659.8,277.4L1660.8,279.2L1661.6,281.0L1662.4,282.8L1663.1,284.7L1663.7,286.6L1664.3,288.5L1664.9,290.5L1665.4,292.4L1665.9,294.3L1666.4,296.3L1666.9,298.2L1667.5,300.1L1667.9,302.1L1668.4,304.0L1668.9,306.0L1669.4,307.9L1669.9,309.9L1670.3,311.8L1670.8,313.8L1671.3,315.7L1671.7,317.7L1672.1,319.6L1672.6,321.6L1673.0,323.5L1673.4,325.5L1673.9,327.4L1674.3,329.4L1674.7,331.3L1675.1,333.3L1675.5,335.3L1675.9,337.2L1676.3,339.2L1676.7,341.2L1677.1,343.1L1677.5,345.1L1677.8,347.0L1678.2,349.0L1678.6,351.0L1679.0,352.9L1679.3,354.9L1679.7,356.9L1680.1,358.9L1680.4,360.8L1680.8,362.8L1681.1,364.8L1681.5,366.7L1681.8,368.7L1682.2,370.7L1682.5,372.7L1682.9,374.6L1683.2,376.6L1683.6,378.6L1683.9,380.5L1684.2,382.5L1684.6,384.5L1684.9,386.5L1685.3,388.4L1685.6,390.4L1685.9,392.4L1686.2,394.4L1686.6,396.3L1686.9,398.3L1687.2,400.3L1687.5,402.3L1687.9,404.2L1688.2,406.2L1688.5,408.2L1688.8,410.2L1689.1,412.2L1689.4,414.1L1689.7,416.1L1690.0,418.1L1690.3,420.1L1690.6,422.0L1690.9,424.0L1691.3,426.0L1691.5,428.0L1691.8,430.0L1692.1,431.9L1692.4,433.9L1692.7,435.9L1693.0,437.9L1693.3,439.9L1693.6,441.8L1693.9,443.8L1694.2,445.8L1694.5,447.8L1694.8,449.8L1695.0,451.8L1695.3,453.7L1695.6,455.7L1695.9,457.7L1696.2,459.7L1696.4,461.7L1696.7,463.7L1697.0,465.6L1697.3,467.6L1697.5,469.6L1697.8,471.6L1698.1,473.6L1698.3,475.6L1698.6,477.5L1698.9,479.5L1699.1,481.5L1699.4,483.5L1699.7,485.5L1699.9,487.5L1700.2,489.5L1700.4,491.4L1700.7,493.4L1700.9,495.4L1701.2,497.4L1701.5,499.4L1701.7,501.4L1702.0,503.4L1702.2,505.3L1702.5,507.3L1702.7,509.3L1703.0,511.3L1703.2,513.3L1703.5,515.3L1703.7,517.3L1704.0,519.2L1704.2,521.2L1704.5,523.2L1704.7,525.2L1704.9,527.2L1705.2,529.2L1705.4,531.2L1705.7,533.2L1705.9,535.1L1706.1,537.1L1706.4,539.1L1706.6,541.1L1706.9,543.1L1707.1,545.1L1707.3,547.1L1707.6,549.1L1707.8,551.1L1708.0,553.0L1708.3,555.0L1708.5,557.0L1708.7,559.0L1709.0,561.0L1709.2,563.0L1709.4,565.0L1709.7,567.0L1709.9,569.0L1710.1,570.9L1710.4,572.9L1710.6,574.9L1710.8,576.9L1711.0,578.9L1711.3,580.9L1711.5,582.9L1711.7,584.9L1711.9,586.9L1712.2,588.8L1712.4,590.8L1712.6,592.8L1712.9,594.8L1713.1,596.8L1713.3,598.8L1713.5,600.8L1713.8,602.8L1714.0,604.8L1714.2,606.7L1714.4,608.7L1714.6,610.7L1714.9,612.7L1715.1,614.7L1715.3,616.7L1715.5,618.7L1715.8,620.7L1716.0,622.7L1716.2,624.7L1716.4,626.6L1716.7,628.6L1716.9,630.6L1717.1,632.6L1717.3,634.6L1717.5,636.6L1717.8,638.6L1718.0,640.6L1718.2,642.6L1718.4,644.6L1718.7,646.5L1718.9,648.5L1719.1,650.5L1719.3,652.5L1719.6,654.5L1719.8,656.5L1720.0,658.5L1720.2,660.5L1720.4,662.5L1720.7,664.5L1720.9,666.4L1721.1,668.4L1721.3,670.4L1721.6,672.4L1721.8,674.4L1722.0,676.4L1722.2,678.4L1722.5,680.4L1722.7,682.4L1722.9,684.4L1723.1,686.3L1723.4,688.3L1723.6,690.3L1723.8,692.3L1724.0,694.3L1724.3,696.3L1724.5,698.3L1724.7,700.3L1724.9,702.3L1725.2,704.2L1725.4,706.2L1725.6,708.2L1725.8,710.2L1726.1,712.2L1726.3,714.2L1726.5,716.2L1726.7,718.2L1727.0,720.2L1727.2,722.2L1727.4,724.1L1727.6,726.1L1727.9,728.1L1728.1,730.1L1728.3,732.1L1728.5,734.1L1728.8,736.1L1729.0,738.1L1729.2,740.1L1729.4,742.0L1729.7,744.0L1729.9,746.0L1730.1,748.0L1730.3,750.0L1730.6,752.0L1730.8,754.0L1731.0,756.0L1731.3,758.0L1731.5,760.0L1731.7,761.9L1731.9,763.9L1732.2,765.9L1732.4,767.9L1732.6,769.9L1732.9,771.9L1733.1,773.9L1733.3,775.9L1733.5,777.9L1733.8,779.8L1734.0,781.8L1734.2,783.8L1734.5,785.8L1734.7,787.8L1734.9,789.8L1735.2,791.8L1735.4,793.8L1735.6,795.8L1735.8,797.7L1736.1,799.7L1736.3,801.7L1736.5,803.7L1736.8,805.7L1737.0,807.7L1737.2,809.7L1737.5,811.7L1737.7,813.7L1737.9,815.6L1738.2,817.6L1738.4,819.6L1738.6,821.6L1738.9,823.6L1739.1,825.6L1739.3,827.6L1739.6,829.6L1739.8,831.6L1740.0,833.5L1740.3,835.5L1740.5,837.5L1740.7,839.5L1741.0,841.5L1741.2,843.5L1741.4,845.5L1741.7,847.5L1741.9,849.4L1742.1,851.4L1742.4,853.4L1742.6,855.4L1742.9,857.4L1743.1,859.4L1743.3,861.4L1743.6,863.4L1743.8,865.4L1744.0,867.3L1744.3,869.3L1744.5,871.3L1744.8,873.3L1745.0,875.3L1745.2,877.3L1745.5,879.3L1745.7,881.3L1746.0,883.2L1746.2,885.2L1746.4,887.2L1746.7,889.2L1746.9,891.2L1747.2,893.2L1747.4,895.2L1747.6,897.2L1747.9,899.1L1748.1,901.1L1748.4,903.1L1748.6,905.1L1748.9,907.1L1749.1,909.1L1749.3,911.1L1749.6,913.1L1749.8,915.0L1750.1,917.0L1750.3,919.0L1750.6,921.0L1750.8,923.0L1751.1,925.0L1751.3,927.0L1751.6,929.0L1751.8,930.9L1752.0,932.9L1752.3,934.9L1752.5,936.9L1752.8,938.9L1753.0,940.9L1753.3,942.9L1753.5,944.9L1753.8,946.8L1754.0,948.8L1754.3,950.8L1754.5,952.8L1754.8,954.8L1755.1,956.8L1755.3,958.8L1755.6,960.7L1755.8,962.7L1756.1,964.7L1756.3,966.7L1756.6,968.7L1756.9,970.7L1757.1,972.7L1757.4,974.6L1757.6,976.6L1757.9,978.6L1758.2,980.6L1758.4,982.6L1758.7,984.6L1759.0,986.5L1759.2,988.5L1759.5,990.5L1759.8,992.5L1760.0,994.5L1760.3,996.5L1760.6,998.5L1760.9,1000.4L1761.1,1002.4L1761.4,1004.4L1761.7,1006.4L1762.0,1008.4L1762.2,1010.3L1762.5,1012.3L1762.8,1014.3L1763.1,1016.3L1763.4,1018.3L1763.7,1020.3L1764.0,1022.2L1764.2,1024.2L1764.5,1026.2L1764.8,1028.2L1765.1,1030.2L1765.4,1032.1L1765.7,1034.1L1766.0,1036.1L1766.3,1038.1L1766.6,1040.1L1766.9,1042.0L1767.2,1044.0L1767.5,1046.0L1767.8,1048.0L1768.2,1050.0L1768.5,1051.9L1768.8,1053.9L1769.1,1055.9L1769.4,1057.9L1769.7,1059.8L1770.1,1061.8L1770.4,1063.8L1770.7,1065.8L1771.0,1067.7L1771.4,1069.7L1771.7,1071.7L1772.0,1073.7L1772.4,1075.6L1772.7,1077.6L1773.1,1079.6L1773.4,1081.6L1773.7,1083.5L1774.1,1085.5L1774.4,1087.5L1774.8,1089.4L1775.1,1091.4L1775.5,1093.4L1775.9,1095.4L1776.2,1097.3L1776.6,1099.3L1776.9,1101.3L1777.3,1103.2L1777.7,1105.2L1778.1,1107.2L1778.4,1109.1L1778.8,1111.1L1779.2,1113.1L1779.6,1115.0L1779.9,1117.0L1780.3,1119.0L1780.7,1120.9L1781.1,1122.9L1781.5,1124.9L1781.9,1126.8L1782.3,1128.8L1782.7,1130.7L1783.1,1132.7L1783.5,1134.7L1783.9,1136.6L1784.3,1138.6L1784.8,1140.5L1785.2,1142.5L1785.7,1144.4L1786.1,1146.4L1786.7,1148.3L1787.2,1150.2L1787.8,1152.1L1788.5,1154.0L1789.2,1155.9L1790.0,1157.8L1790.8,1159.6L1791.7,1161.4L1792.7,1163.1L1793.7,1164.8L1794.9,1166.5L1796.1,1168.1L1797.4,1169.6L1798.8,1171.0L1800.5,1172.1L1802.3,1172.8L1804.3,1172.8L1806.1,1171.9L1807.6,1170.6L1808.9,1169.1L1810.1,1167.4L1811.2,1165.7L1812.1,1164.0L1813.1,1162.2L1813.9,1160.4L1814.8,1158.6L1815.6,1156.8L1816.3,1154.9L1817.0,1153.0L1817.7,1151.2L1818.4,1149.3L1819.0,1147.4L1819.6,1145.5L1820.2,1143.5L1820.8,1141.6L1821.3,1139.7L1821.8,1137.8L1822.4,1135.8L1822.9,1133.9L1823.4,1132.0L1823.9,1130.0L1824.5,1128.1L1825.0,1126.2L1825.5,1124.2L1826.0,1122.3L1826.5,1120.3L1827.0,1118.4L1827.4,1116.5L1827.9,1114.5L1828.4,1112.6L1828.9,1110.6L1829.4,1108.7L1829.8,1106.7L1830.3,1104.8L1830.8,1102.8L1831.2,1100.9L1831.7,1099.0L1832.2,1097.0L1832.6,1095.1L1833.1,1093.1L1833.5,1091.1L1833.9,1089.2L1834.4,1087.2L1834.8,1085.3L1835.2,1083.3L1835.7,1081.4L1836.1,1079.4L1836.5,1077.5L1836.9,1075.5L1837.4,1073.5L1837.8,1071.6L1838.2,1069.6L1838.6,1067.7L1839.0,1065.7L1839.4,1063.7L1839.8,1061.8L1840.2,1059.8L1840.6,1057.9L1841.0,1055.9L1841.4,1053.9L1841.8,1052.0L1842.2,1050.0L1842.5,1048.0L1842.9,1046.1L1843.3,1044.1L1843.7,1042.1L1844.0,1040.2L1844.4,1038.2L1844.8,1036.2L1845.1,1034.3L1845.5,1032.3L1845.9,1030.3L1846.2,1028.4L1846.6,1026.4L1846.9,1024.4L1847.3,1022.4L1847.6,1020.5L1848.0,1018.5L1848.3,1016.5L1848.7,1014.6L1849.0,1012.6L1849.3,1010.6L1849.7,1008.6L1850.0,1006.7L1850.4,1004.7L1850.7,1002.7L1851.0,1000.7L1851.4,998.8L1851.7,996.8L1852.0,994.8L1852.3,992.8L1852.7,990.9L1853.0,988.9L1853.3,986.9L1853.6,984.9L1853.9,983.0L1854.2,981.0L1854.6,979.0L1854.9,977.0L1855.2,975.0L1855.5,973.1L1855.8,971.1L1856.1,969.1L1856.4,967.1L1856.7,965.2L1857.0,963.2L1857.3,961.2L1857.6,959.2L1857.9,957.2L1858.2,955.3L1858.5,953.3L1858.8,951.3L1859.1,949.3L1859.4,947.3L1859.7,945.4L1860.0,943.4L1860.3,941.4L1860.6,939.4L1860.9,937.4L1861.2,935.5L1861.5,933.5L1861.8,931.5L1862.1,929.5L1862.4,927.5L1862.7,925.6L1863.0,923.6L1863.2,921.6L1863.5,919.6L1863.8,917.6L1864.1,915.6L1864.4,913.7L1864.7,911.7L1865.0,909.7L1865.3,907.7L1865.6,905.7L1865.8,903.8L1866.1,901.8L1866.4,899.8L1866.7,897.8L1867.0,895.8L1867.3,893.8L1867.6,891.9L1867.9,889.9L1868.2,887.9L1868.4,885.9L1868.7,883.9L1869.0,882.0L1869.3,880.0L1869.6,878.0L1869.9,876.0L1870.2,874.0L1870.5,872.1L1870.8,870.1L1871.1,868.1L1871.4,866.1L1871.7,864.1L1872.0,862.2L1872.3,860.2L1872.6,858.2L1872.9,856.2L1873.1,854.2L1873.4,852.3L1873.7,850.3L1874.1,848.3L1874.4,846.3L1874.7,844.3L1875.0,842.4L1875.3,840.4L1875.6,838.4L1875.9,836.4L1876.2,834.4L1876.5,832.5L1876.8,830.5L1877.1,828.5L1877.4,826.5L1877.7,824.6L1878.1,822.6L1878.4,820.6L1878.7,818.6L1879.0,816.6L1879.3,814.7L1879.7,812.7L1880.0,810.7L1880.3,808.7L1880.6,806.8L1881.0,804.8L1881.3,802.8L1881.6,800.8L1882.0,798.9L1882.3,796.9L1882.6,794.9L1883.0,792.9L1883.3,791.0L1883.6,789.0L1884.0,787.0L1884.3,785.1L1884.6,783.1L1885.0,781.1L1885.3,779.1L1885.7,777.2L1886.0,775.2L1886.4,773.2L1886.7,771.2L1887.1,769.3L1887.4,767.3L1887.8,765.3L1888.1,763.4L1888.5,761.4L1888.8,759.4L1889.2,757.4L1889.5,755.5L1889.9,753.5L1890.2,751.5L1890.6,749.6L1891.0,747.6L1891.3,745.6L1891.7,743.7L1892.0,741.7L1892.4,739.7L1892.8,737.7L1893.1,735.8L1893.5,733.8L1893.9,731.8L1894.2,729.9L1894.6,727.9L1895.0,725.9L1895.3,724.0L1895.7,722.0L1896.1,720.0L1896.5,718.1L1896.8,716.1L1897.2,714.1L1897.6,712.2L1898.0,710.2L1898.3,708.2L1898.7,706.3L1899.1,704.3L1899.5,702.3L1899.9,700.4L1900.2,698.4L1900.6,696.4L1901.0,694.5L1901.4,692.5L1901.8,690.5L1902.2,688.6L1902.6,686.6L1902.9,684.7L1903.3,682.7L1903.7,680.7L1904.1,678.8L1904.5,676.8L1904.9,674.8L1905.3,672.9L1905.7,670.9L1906.1,669.0L1906.5,667.0L1906.9,665.0L1907.4,663.1L1907.8,661.1L1908.2,659.2L1908.6,657.2L1909.0,655.2L1909.5,653.3L1909.9,651.3L1910.3,649.4L1910.8,647.4L1911.2,645.5L1911.7,643.5L1912.2,641.6L1912.6,639.6L1913.1,637.7L1913.6,635.7L1914.0,633.8L1914.5,631.9L1915.0,629.9L1915.5,628.0L1916.0,626.0L1916.5,624.1L1917.1,622.2L1917.6,620.2L1918.1,618.3L1918.7,616.4L1919.2,614.5L1919.8,612.5L1920.3,610.6L1920.9,608.7L1921.5,606.8L1922.1,604.9L1922.7,602.9L1923.3,601.0L1923.9,599.1L1924.5,597.2L1925.2,595.3L1925.8,593.4L1926.4,591.5L1927.1,589.7L1927.8,587.8L1928.5,585.9L1929.2,584.0L1929.9,582.1L1930.6,580.3L1931.3,578.4L1932.0,576.5L1932.8,574.7L1933.5,572.8L1934.3,571.0L1935.1,569.1L1935.9,567.3L1936.7,565.5L1937.5,563.6L1938.4,561.8L1939.2,560.0L1940.1,558.2L1941.0,556.4L1941.9,554.6L1942.8,552.9L1943.8,551.1L1944.8,549.4L1945.8,547.6L1946.8,545.9L1947.8,544.2L1948.8,542.5L1949.9,540.8L1951.0,539.1L1952.1,537.4L1953.3,535.8L1954.4,534.2L1955.6,532.6L1956.8,531.0L1958.1,529.4L1959.3,527.8L1960.6,526.3L1961.9,524.8L1963.3,523.3L1964.6,521.8L1966.0,520.4L1967.4,518.9L1968.9,517.5L1970.3,516.2L1971.8,514.8L1973.3,513.5L1974.8,512.2L1976.4,510.9L1977.9,509.7L1979.5,508.5L1981.1,507.3L1982.8,506.1L1984.4,505.0L1986.1,503.9L1987.8,502.8L1989.5,501.8L1991.2,500.8L1993.0,499.8L1994.8,498.9L1996.6,498.0L1998.4,497.2L2000.2,496.4L2002.1,495.6L2003.9,494.9L2005.8,494.2L2007.7,493.6L2009.6,493.0L2011.6,492.5L2013.5,492.0L2015.5,491.6L2017.4,491.2L2019.4,490.9L2021.4,490.6L2023.4,490.4L2025.4,490.2L2027.4,490.1L2029.4,490.1L2031.4,490.0L2033.4,490.1L2035.4,490.1L2037.4,490.2L2039.4,490.4L2041.4,490.5L2043.4,490.7L2045.4,490.9L2047.4,491.2L2049.3,491.5L2051.3,491.7L2053.3,492.1L2055.3,492.4L2057.2,492.7L2059.2,493.1L2061.2,493.4L2063.2,493.8L2065.1,494.2L2067.1,494.6L2069.0,495.0L2071.0,495.4L2073.0,495.8L2074.9,496.2L2076.9,496.6L2078.9,496.9L2080.8,497.3L2082.8,497.7L2084.8,498.1L2086.7,498.4L2088.7,498.7L2090.7,499.0L2092.7,499.3L2094.7,499.6L2096.6,499.9L2098.6,500.1L2100.6,500.3L2102.6,500.5L2104.6,500.6L2106.6,500.7L2108.6,500.8L2110.6,500.8L2112.6,500.8L2114.6,500.7" fill="none" stroke="#BC00CC" stroke-width="10.0" stroke-linejoin="round" stroke-linecap="butt"/>
<path d="M343.7,486.9L345.7,486.9L347.7,486.9L349.7,486.8L351.7,486.8L353.8,486.8L355.8,486.8L357.8,486.8L359.8,486.8L361.8,486.8L363.8,486.8L365.8,486.8L367.8,486.8L369.8,486.8L371.8,486.8L373.8,486.8L375.8,486.8L377.8,486.8L379.8,486.8L381.8,486.8L383.8,486.8L385.8,486.8L387.8,486.8L389.8,486.8L391.8,486.7L393.8,486.7L395.8,486.7L397.8,486.7L399.8,486.7L401.8,486.7L403.8,486.7L405.8,486.7L407.8,486.7L409.8,486.7L411.8,486.7L413.8,486.6L415.8,486.6L417.8,486.6L419.8,486.6L421.8,486.6L423.8,486.6L425.8,486.6L427.8,486.6L429.8,486.5L431.8,486.5L433.8,486.5L435.8,486.5L437.8,486.5L439.8,486.5L441.8,486.5L443.8,486.4L445.8,486.4L447.9,486.4L449.9,486.4L451.9,486.4L453.9,486.3L455.9,486.3L457.9,486.3L459.9,486.3L461.9,486.2L463.9,486.2L465.9,486.2L467.9,486.2L469.9,486.1L471.9,486.1L473.9,486.1L475.9,486.1L477.9,486.0L479.9,486.0L481.9,486.0L483.9,485.9L485.9,485.9L487.9,485.9L489.9,485.8L491.9,485.8L493.9,485.8L495.9,485.7L497.9,485.7L499.9,485.7L501.9,485.6L503.9,485.6L505.9,485.5L507.9,485.5L509.9,485.5L511.9,485.4L513.9,485.4L515.9,485.3L517.9,485.3L519.9,485.2L521.9,485.2L523.9,485.1L525.9,485.1L527.9,485.0L529.9,485.0L531.9,484.9L533.9,484.9L535.9,484.8L537.9,484.8L539.9,484.7L541.9,484.6L543.9,484.6L545.9,484.5L547.9,484.5L549.9,484.4L551.9,484.3L553.9,484.3L555.9,484.2L557.9,484.1L559.9,484.1L561.9,484.0L563.9,483.9L565.9,483.8L567.9,483.8L569.9,483.7L571.9,483.6L573.9,483.5L575.9,483.5L577.9,483.4L580.0,483.3L582.0,483.2L584.0,483.1L586.0,483.1L588.0,483.0L590.0,482.9L592.0,482.8L594.0,482.7L596.0,482.6L598.0,482.5L600.0,482.4L602.0,482.3L604.0,482.2L606.0,482.1L608.0,482.0L610.0,481.9L611.9,481.8L613.9,481.7L615.9,481.6L617.9,481.5L619.9,481.4L621.9,481.3L623.9,481.2L625.9,481.0L627.9,480.9L629.9,480.8L631.9,480.7L633.9,480.6L635.9,480.4L637.9,480.3L639.9,480.2L641.9,480.1L643.9,479.9L645.9,479.8L647.9,479.7L649.9,479.5L651.9,479.4L653.9,479.3L655.9,479.1L657.9,479.0L659.9,478.8L661.9,478.7L663.9,478.6L665.9,478.4L667.9,478.3L669.9,478.1L671.9,478.0L673.9,477.8L675.9,477.6L677.9,477.5L679.9,477.3L681.9,477.2L683.9,477.0L685.9,476.8L687.9,476.7L689.8,476.5L691.8,476.3L693.8,476.2L695.8,476.0L697.8,475.8L699.8,475.6L701.8,475.4L703.8,475.3L705.8,475.1L707.8,474.9L709.8,474.7L711.8,474.5L713.8,474.3L715.8,474.1L717.8,473.9L719.8,473.7L721.7,473.5L723.7,473.3L725.7,473.1L727.7,472.9L729.7,472.7L731.7,472.5L733.7,472.3L735.7,472.0L737.7,471.8L739.7,471.6L741.7,471.4L743.6,471.2L745.6,470.9L747.6,470.7L749.6,470.5L751.6,470.2L753.6,470.0L755.6,469.8L757.6,469.5L759.5,469.3L761.5,469.0L763.5,468.8L765.5,468.5L767.5,468.3L769.5,468.0L771.5,467.8L773.5,467.5L775.4,467.3L777.4,467.0L779.4,466.7L781.4,466.5L783.4,466.2L785.4,465.9L787.3,465.7L789.3,465.4L791.3,465.1L793.3,464.9L795.3,464.6L797.3,464.3L799.2,464.0L801.2,463.8L803.2,463.5L805.2,463.2L807.2,463.0L809.2,462.7L811.1,462.4L813.1,462.1L815.1,461.9L817.1,461.6L819.1,461.3L821.1,461.0L823.0,460.8L825.0,460.5L827.0,460.2L829.0,460.0L831.0,459.7L833.0,459.4L835.0,459.1L836.9,458.9L838.9,458.6L840.9,458.4L842.9,458.1L844.9,457.8L846.9,457.6L848.8,457.3L850.8,457.1L852.8,456.8L854.8,456.6L856.8,456.3L858.8,456.1L860.8,455.8L862.8,455.6L864.7,455.4L866.7,455.1L868.7,454.9L870.7,454.7L872.7,454.4L874.7,454.2L876.7,454.0L878.7,453.8L880.7,453.6L882.7,453.4L884.6,453.2L886.6,453.0L888.6,452.8L890.6,452.6L892.6,452.4L894.6,452.2L896.6,452.0L898.6,451.9L900.6,451.7L902.6,451.5L904.6,451.4L906.6,451.2L908.6,451.1L910.6,450.9L912.6,450.8L914.6,450.6L916.6,450.5L918.6,450.4L920.6,450.3L922.6,450.1L924.6,450.0L926.6,449.9L928.6,449.8L930.6,449.7L932.6,449.7L934.6,449.6L936.6,449.5L938.6,449.4L940.6,449.4L942.6,449.3L944.6,449.3L946.6,449.2L948.6,449.2L950.6,449.2L952.6,449.1L954.6,449.1L956.6,449.1L958.6,449.1L960.6,449.1L962.6,449.1L964.6,449.1L966.6,449.1L968.6,449.1L970.6,449.1L972.6,449.1L974.6,449.2L976.6,449.2L978.6,449.2L980.6,449.2L982.6,449.2L984.6,449.3L986.6,449.3L988.6,449.3L990.6,449.4L992.6,449.4L994.6,449.4L996.6,449.5L998.6,449.5L1000.6,449.6L1002.6,449.6L1004.6,449.6L1006.6,449.7L1008.6,449.7L1010.6,449.7L1012.6,449.8L1014.6,449.8L1016.6,449.9L1018.6,449.9L1020.6,449.9L1022.6,449.9L1024.6,450.0L1026.6,450.0L1028.6,450.0L1030.6,450.0L1032.7,450.1L1034.7,450.1L1036.7,450.1L1038.7,450.1L1040.7,450.1L1042.7,450.1L1044.7,450.1L1046.7,450.1L1048.7,450.1L1050.7,450.1L1052.7,450.0L1054.7,450.0L1056.7,450.0L1058.7,449.9L1060.7,449.9L1062.7,449.9L1064.7,449.8L1066.7,449.7L1068.7,449.7L1070.7,449.6L1072.7,449.5L1074.7,449.4L1076.7,449.3L1078.7,449.2L1080.7,449.1L1082.7,449.0L1084.7,448.9L1086.7,448.8L1088.7,448.6L1090.7,448.5L1092.7,448.3L1094.7,448.1L1096.7,448.0L1098.7,447.8L1100.6,447.6L1102.6,447.4L1104.6,447.2L1106.6,447.0L1108.6,446.8L1110.6,446.5L1112.6,446.3L1114.6,446.1L1116.6,445.8L1118.5,445.6L1120.5,445.3L1122.5,445.0L1124.5,444.7L1126.5,444.4L1128.5,444.1L1130.4,443.8L1132.4,443.5L1134.4,443.2L1136.4,442.8L1138.3,442.5L1140.3,442.1L1142.3,441.8L1144.2,441.4L1146.2,441.0L1148.2,440.6L1150.1,440.2L1152.1,439.8L1154.0,439.4L1156.0,439.0L1158.0,438.5L1159.9,438.1L1161.9,437.6L1163.8,437.2L1165.8,436.7L1167.7,436.2L1169.6,435.8L1171.6,435.3L1173.5,434.8L1175.5,434.2L1177.4,433.7L1179.3,433.2L1181.2,432.7L1183.2,432.1L1185.1,431.5L1187.0,430.9L1188.9,430.3L1190.8,429.6L1192.6,428.8L1194.5,428.0L1196.3,427.1L1198.0,426.2L1199.7,425.1L1201.4,424.0L1203.0,422.9L1204.7,421.7L1206.2,420.5L1207.8,419.2L1209.3,417.9L1210.8,416.6L1212.3,415.2L1213.7,413.8L1215.1,412.4L1216.5,411.0L1218.0,409.6L1219.4,408.1L1220.7,406.7L1222.1,405.3L1223.6,403.8L1225.0,402.4L1226.4,401.0L1227.8,399.6L1229.3,398.3L1230.8,396.9L1232.3,395.6L1233.9,394.4L1235.4,393.1L1237.1,392.0L1238.7,390.8L1240.4,389.7L1242.1,388.6L1243.8,387.6L1245.5,386.6L1247.3,385.7L1249.1,384.8L1250.9,384.0L1252.8,383.2L1254.6,382.5L1256.5,381.8L1258.4,381.2L1260.3,380.6L1262.3,380.1L1264.2,379.7L1266.2,379.3L1268.2,379.0L1270.2,378.8L1272.2,378.7L1274.2,378.6L1276.2,378.6L1278.2,378.7L1280.2,378.9L1282.2,379.2L1284.1,379.5L1286.1,379.9L1288.0,380.4L1290.0,381.0L1291.9,381.6L1293.7,382.3L1295.6,383.0L1297.5,383.8L1299.3,384.6L1301.1,385.5L1302.9,386.4L1304.6,387.3L1306.4,388.3L1308.1,389.4L1309.8,390.4L1311.5,391.5L1313.1,392.6L1314.8,393.7L1316.4,394.9L1318.0,396.1L1319.6,397.3L1321.2,398.5L1322.8,399.7L1324.4,401.0L1325.9,402.2L1327.5,403.5L1329.0,404.8L1330.6,406.1L1332.1,407.4L1333.6,408.7L1335.1,410.0L1336.6,411.3L1338.1,412.6L1339.6,414.0L1341.1,415.3L1342.6,416.6L1344.0,418.0L1345.5,419.4L1347.0,420.7L1348.4,422.1L1349.9,423.5L1351.3,424.9L1352.7,426.3L1354.1,427.7L1355.5,429.2L1356.9,430.6L1358.3,432.0L1359.7,433.5L1361.0,435.0L1362.4,436.5L1363.7,438.0L1365.0,439.5L1366.3,441.0L1367.6,442.5L1368.9,444.1L1370.2,445.6L1371.4,447.2L1372.6,448.8L1373.8,450.4L1375.0,452.0L1376.2,453.6L1377.4,455.2L1378.5,456.9L1379.6,458.5L1380.7,460.2L1381.8,461.9L1382.8,463.6L1383.8,465.3L1384.9,467.1L1385.8,468.8L1386.8,470.6L1387.7,472.3L1388.6,474.1L1389.5,475.9L1390.4,477.7L1391.2,479.5L1392.0,481.4L1392.8,483.2L1393.6,485.1L1394.4,486.9L1395.1,488.8L1395.8,490.6L1396.6,492.5L1397.3,494.4L1397.9,496.3L1398.6,498.1L1399.3,500.0L1400.0,501.9L1400.6,503.8L1401.3,505.7L1401.9,507.6L1402.6,509.5L1403.2,511.4L1403.9,513.3L1404.5,515.2L1405.2,517.1L1405.8,519.0L1406.5,520.8L1407.2,522.7L1407.8,524.6L1408.5,526.5L1409.2,528.4L1409.9,530.3L1410.6,532.1L1411.3,534.0L1412.1,535.9L1412.8,537.7L1413.6,539.6L1414.4,541.4L1415.2,543.2L1416.0,545.1L1416.9,546.9L1417.8,548.7L1418.7,550.4L1419.6,552.2L1420.6,553.9L1421.7,555.6L1422.8,557.3L1424.0,558.9L1425.2,560.5L1426.5,562.0L1427.9,563.5L1429.3,564.9L1430.8,566.2L1432.4,567.4L1434.1,568.5L1435.8,569.6L1437.6,570.4L1439.4,571.2L1441.3,571.9L1443.3,572.3L1445.2,572.6L1447.2,572.7L1449.2,572.5L1451.2,572.1L1453.1,571.4L1454.8,570.5L1456.5,569.3L1458.0,568.0L1459.4,566.5L1460.7,565.1L1462.0,563.5L1463.2,561.9L1464.5,560.4L1465.7,558.8L1466.9,557.2L1468.1,555.6L1469.3,554.0L1470.5,552.3L1471.6,550.7L1472.8,549.1L1473.9,547.5L1475.1,545.8L1476.2,544.2L1477.4,542.5L1478.5,540.9L1479.6,539.2L1480.8,537.6L1481.9,535.9L1483.1,534.3L1484.2,532.6L1485.4,531.0L1486.5,529.4L1487.7,527.8L1488.9,526.1L1490.1,524.5L1491.2,522.9L1492.5,521.3L1493.7,519.7L1494.9,518.2L1496.2,516.6L1497.4,515.1L1498.7,513.5L1500.0,512.0L1501.4,510.5L1502.7,509.0L1504.1,507.6L1505.5,506.1L1506.9,504.7L1508.4,503.3L1509.8,502.0L1511.3,500.7L1512.9,499.4L1514.4,498.1L1516.0,496.9L1517.6,495.7L1519.3,494.6L1520.9,493.4L1522.5,492.2L1524.2,491.1L1525.8,490.0L1527.4,488.8L1529.1,487.6L1530.7,486.4L1532.3,485.2L1533.9,484.0L1535.5,482.8L1537.0,481.6L1538.6,480.3L1540.1,479.0L1541.7,477.7L1543.2,476.4L1544.7,475.1L1546.1,473.7L1547.6,472.4L1549.0,471.0L1550.4,469.5L1551.8,468.1L1553.2,466.6L1554.5,465.1L1555.8,463.6L1557.1,462.0L1558.3,460.5L1559.5,458.9L1560.7,457.2L1561.8,455.6L1562.9,453.9L1563.9,452.2L1565.0,450.5L1566.0,448.8L1567.0,447.0L1567.9,445.2L1568.8,443.5L1569.7,441.7L1570.6,439.8L1571.4,438.0L1572.2,436.2L1573.0,434.4L1573.8,432.5L1574.5,430.7L1575.2,428.8L1575.9,426.9L1576.6,425.0L1577.3,423.2L1578.0,421.3L1578.7,419.4L1579.3,417.5L1579.9,415.6L1580.6,413.7L1581.2,411.8L1581.8,409.9L1582.4,408.0L1583.0,406.1L1583.6,404.1L1584.2,402.2L1584.8,400.3L1585.3,398.4L1585.9,396.5L1586.5,394.6L1587.0,392.6L1587.6,390.7L1588.1,388.8L1588.6,386.8L1589.2,384.9L1589.7,383.0L1590.2,381.1L1590.7,379.1L1591.2,377.2L1591.7,375.2L1592.2,373.3L1592.7,371.4L1593.2,369.4L1593.7,367.5L1594.2,365.5L1594.7,363.6L1595.2,361.6L1595.6,359.7L1596.1,357.8L1596.6,355.8L1597.0,353.9L1597.5,351.9L1597.9,350.0L1598.4,348.0L1598.8,346.1L1599.3,344.1L1599.7,342.2L1600.2,340.2L1600.6,338.2L1601.0,336.3L1601.5,334.3L1601.9,332.4L1602.3,330.4L1602.7,328.5L1603.2,326.5L1603.6,324.6L1604.0,322.6L1604.4,320.6L1604.8,318.7L1605.3,316.7L1605.7,314.8L1606.1,312.8L1606.5,310.8L1606.9,308.9L1607.3,306.9L1607.7,305.0L1608.1,303.0L1608.6,301.0L1609.0,299.1L1609.4,297.1L1609.8,295.2L1610.2,293.2L1610.6,291.3L1611.0,289.3L1611.4,287.3L1611.8,285.4L1612.3,283.4L1612.7,281.5L1613.1,279.5L1613.5,277.5L1613.9,275.6L1614.4,273.6L1614.8,271.7L1615.2,269.7L1615.6,267.8L1616.1,265.8L1616.5,263.8L1616.9,261.9L1617.4,259.9L1617.8,258.0L1618.2,256.0L1618.7,254.1L1619.1,252.1L1619.6,250.2L1620.0,248.2L1620.5,246.3L1620.9,244.3L1621.4,242.4L1621.9,240.4L1622.3,238.5L1622.8,236.5L1623.3,234.6L1623.8,232.7L1624.3,230.7L1624.8,228.8L1625.2,226.8L1625.7,224.9L1626.2,223.0L1626.8,221.0L1627.3,219.1L1627.8,217.1L1628.3,215.2L1628.8,213.3L1629.4,211.3L1629.9,209.4L1630.4,207.5L1631.0,205.6L1631.5,203.6L1632.1,201.7L1632.6,199.8L1633.2,197.9L1633.8,196.0L1634.4,194.0L1635.0,192.1L1635.7,190.3L1636.4,188.4L1637.2,186.5L1638.0,184.7L1639.0,183.0L1640.0,181.3L1641.2,179.6L1642.5,178.1L1643.9,176.7L1645.5,175.5L1647.2,174.5L1649.1,173.7L1651.0,173.3L1653.0,173.4L1654.9,174.1L1656.6,175.1L1658.1,176.5L1659.4,177.9L1660.6,179.5L1661.7,181.2L1662.7,182.9L1663.7,184.7L1664.6,186.5L1665.4,188.3L1666.2,190.1L1667.0,192.0L1667.8,193.8L1668.5,195.7L1669.2,197.6L1669.8,199.5L1670.5,201.4L1671.1,203.3L1671.7,205.2L1672.2,207.1L1672.8,209.0L1673.3,211.0L1673.8,212.9L1674.2,214.9L1674.7,216.8L1675.1,218.8L1675.6,220.7L1676.0,222.7L1676.4,224.6L1676.8,226.6L1677.2,228.6L1677.6,230.5L1678.0,232.5L1678.4,234.5L1678.7,236.4L1679.1,238.4L1679.5,240.4L1679.9,242.3L1680.3,244.3L1680.7,246.3L1681.1,248.2L1681.4,250.2L1681.8,252.1L1682.2,254.1L1682.6,256.1L1683.0,258.0L1683.3,260.0L1683.7,262.0L1684.1,263.9L1684.5,265.9L1684.8,267.9L1685.2,269.8L1685.6,271.8L1685.9,273.8L1686.3,275.7L1686.7,277.7L1687.1,279.7L1687.4,281.7L1687.8,283.6L1688.2,285.6L1688.5,287.6L1688.9,289.5L1689.3,291.5L1689.6,293.5L1690.0,295.4L1690.3,297.4L1690.7,299.4L1691.1,301.3L1691.4,303.3L1691.8,305.3L1692.2,307.2L1692.5,309.2L1692.9,311.2L1693.2,313.2L1693.6,315.1L1694.0,317.1L1694.3,319.1L1694.7,321.0L1695.0,323.0L1695.4,325.0L1695.7,326.9L1696.1,328.9L1696.5,330.9L1696.8,332.9L1697.2,334.8L1697.5,336.8L1697.9,338.8L1698.2,340.7L1698.6,342.7L1698.9,344.7L1699.3,346.6L1699.7,348.6L1700.0,350.6L1700.4,352.6L1700.7,354.5L1701.1,356.5L1701.4,358.5L1701.8,360.4L1702.1,362.4L1702.5,364.4L1702.8,366.3L1703.2,368.3L1703.6,370.3L1703.9,372.3L1704.3,374.2L1704.6,376.2L1705.0,378.2L1705.3,380.1L1705.7,382.1L1706.0,384.1L1706.4,386.1L1706.8,388.0L1707.1,390.0L1707.5,392.0L1707.8,393.9L1708.2,395.9L1708.5,397.9L1708.9,399.8L1709.3,401.8L1709.6,403.8L1710.0,405.8L1710.3,407.7L1710.7,409.7L1711.1,411.7L1711.4,413.6L1711.8,415.6L1712.1,417.6L1712.5,419.5L1712.9,421.5L1713.2,423.5L1713.6,425.4L1713.9,427.4L1714.3,429.4L1714.7,431.4L1715.0,433.3L1715.4,435.3L1715.8,437.3L1716.1,439.2L1716.5,441.2L1716.9,443.2L1717.3,445.1L1717.6,447.1L1718.0,449.1L1718.4,451.0L1718.7,453.0L1719.1,455.0L1719.5,456.9L1719.9,458.9L1720.2,460.9L1720.6,462.8L1721.0,464.8L1721.4,466.8L1721.8,468.7L1722.1,470.7L1722.5,472.7L1722.9,474.6L1723.3,476.6L1723.7,478.6L1724.1,480.5L1724.5,482.5L1724.9,484.4L1725.3,486.4L1725.7,488.4L1726.1,490.3L1726.4,492.3L1726.9,494.3L1727.3,496.2L1727.7,498.2L1728.1,500.1L1728.5,502.1L1728.9,504.1L1729.3,506.0L1729.7,508.0L1730.1,509.9L1730.5,511.9L1731.0,513.8L1731.4,515.8L1731.8,517.8L1732.2,519.7L1732.7,521.7L1733.1,523.6L1733.5,525.6L1734.0,527.5L1734.4,529.5L1734.9,531.4L1735.3,533.4L1735.7,535.3L1736.2,537.3L1736.6,539.2L1737.1,541.2L1737.6,543.1L1738.0,545.1L1738.5,547.0L1738.9,549.0L1739.4,550.9L1739.9,552.9L1740.4,554.8L1740.8,556.8L1741.3,558.7L1741.8,560.7L1742.3,562.6L1742.8,564.5L1743.3,566.5L1743.8,568.4L1744.3,570.4L1744.8,572.3L1745.3,574.2L1745.8,576.2L1746.3,578.1L1746.8,580.0L1747.3,582.0L1747.9,583.9L1748.4,585.8L1748.9,587.8L1749.4,589.7L1750.0,591.6L1750.5,593.6L1751.1,595.5L1751.6,597.4L1752.2,599.3L1752.7,601.3L1753.3,603.2L1753.9,605.1L1754.4,607.0L1755.0,608.9L1755.6,610.9L1756.2,612.8L1756.8,614.7L1757.3,616.6L1757.9,618.5L1758.6,620.4L1759.2,622.3L1759.8,624.2L1760.4,626.1L1761.0,628.0L1761.7,629.9L1762.3,631.8L1762.9,633.7L1763.6,635.6L1764.2,637.5L1764.9,639.4L1765.6,641.3L1766.3,643.2L1766.9,645.0L1767.6,646.9L1768.3,648.8L1769.0,650.7L1769.7,652.5L1770.5,654.4L1771.2,656.3L1771.9,658.1L1772.7,660.0L1773.5,661.8L1774.3,663.7L1775.1,665.5L1775.9,667.3L1776.8,669.1L1777.7,670.9L1778.6,672.7L1779.6,674.5L1780.5,676.2L1781.6,677.9L1782.6,679.6L1783.7,681.3L1784.8,683.0L1785.9,684.6L1787.1,686.2L1788.4,687.8L1789.6,689.4L1790.9,690.9L1792.2,692.4L1793.7,693.8L1795.2,695.1L1796.8,696.3L1798.6,697.2L1800.5,697.8L1802.5,698.1L1804.5,698.2L1806.5,697.9L1808.4,697.4L1810.3,696.8L1812.1,696.0L1813.9,695.1L1815.6,694.1L1817.3,693.0L1818.9,691.8L1820.5,690.6L1822.1,689.3L1823.6,688.0L1825.1,686.7L1826.5,685.3L1827.9,683.9L1829.3,682.4L1830.7,680.9L1832.0,679.4L1833.2,677.9L1834.5,676.3L1835.7,674.7L1836.8,673.1L1838.0,671.4L1839.1,669.7L1840.2,668.0L1841.2,666.3L1842.2,664.6L1843.2,662.9L1844.2,661.1L1845.2,659.4L1846.1,657.6L1847.0,655.8L1847.9,654.1L1848.8,652.3L1849.7,650.5L1850.6,648.7L1851.4,646.8L1852.3,645.0L1853.1,643.2L1854.0,641.4L1854.8,639.6L1855.7,637.8L1856.5,636.0L1857.4,634.2L1858.2,632.3L1859.1,630.5L1859.9,628.7L1860.8,626.9L1861.6,625.1L1862.5,623.3L1863.4,621.5L1864.2,619.7L1865.1,617.9L1866.0,616.1L1866.9,614.3L1867.7,612.5L1868.6,610.7L1869.5,608.9L1870.4,607.1L1871.2,605.3L1872.1,603.5L1873.0,601.7L1873.9,599.9L1874.8,598.1L1875.7,596.3L1876.6,594.5L1877.5,592.7L1878.4,590.9L1879.3,589.2L1880.2,587.4L1881.1,585.6L1882.0,583.8L1882.9,582.0L1883.8,580.2L1884.7,578.4L1885.6,576.7L1886.6,574.9L1887.5,573.1L1888.4,571.3L1889.3,569.6L1890.2,567.8L1891.2,566.0L1892.1,564.2L1893.0,562.4L1893.9,560.7L1894.9,558.9L1895.8,557.1L1896.7,555.4L1897.7,553.6L1898.6,551.8L1899.6,550.1L1900.5,548.3L1901.5,546.5L1902.5,544.8L1903.5,543.1L1904.4,541.3L1905.4,539.6L1906.5,537.9L1907.5,536.1L1908.5,534.4L1909.6,532.7L1910.7,531.0L1911.7,529.4L1912.9,527.7L1914.0,526.0L1915.1,524.4L1916.3,522.8L1917.5,521.1L1918.7,519.5L1919.9,518.0L1921.2,516.4L1922.4,514.9L1923.7,513.3L1925.1,511.8L1926.4,510.4L1927.8,508.9L1929.2,507.5L1930.6,506.1L1932.1,504.7L1933.6,503.4L1935.1,502.1L1936.6,500.8L1938.2,499.6L1939.8,498.4L1941.4,497.2L1943.1,496.1L1944.8,495.0L1946.5,493.9L1948.2,492.9L1950.0,491.9L1951.7,491.0L1953.5,490.1L1955.3,489.3L1957.2,488.5L1959.0,487.7L1960.9,487.0L1962.8,486.3L1964.7,485.6L1966.6,485.0L1968.5,484.5L1970.4,483.9L1972.4,483.4L1974.3,483.0L1976.3,482.6L1978.2,482.2L1980.2,481.9L1982.2,481.6L1984.2,481.4L1986.2,481.2L1988.2,481.0L1990.2,480.9L1992.2,480.8L1994.2,480.7L1996.2,480.6L1998.2,480.6L2000.2,480.6L2002.2,480.6L2004.2,480.6L2006.2,480.6L2008.2,480.7L2010.2,480.7L2012.2,480.7L2014.2,480.7L2016.2,480.8L2018.2,480.8L2020.2,480.8L2022.2,480.8L2024.2,480.8L2026.2,480.9L2028.2,480.9L2030.2,481.0L2032.2,481.1L2034.2,481.2L2036.2,481.3L2038.2,481.5L2040.2,481.6L2042.2,481.9L2044.2,482.1L2046.2,482.4L2048.1,482.7L2050.1,483.1L2052.1,483.5L2054.0,483.9L2056.0,484.4L2057.9,484.9L2059.8,485.4L2061.8,485.9L2063.7,486.5L2065.6,487.0L2067.5,487.6L2069.5,488.1L2071.4,488.7L2073.3,489.3L2075.2,489.8L2077.2,490.3L2079.1,490.8L2081.0,491.3L2083.0,491.8L2084.9,492.2L2086.9,492.6L2088.9,493.0L2090.9,493.3L2092.8,493.6L2094.8,493.8L2096.8,493.9L2098.8,494.0L2100.8,494.1L2102.8,494.1L2104.8,494.0L2106.8,493.8L2108.8,493.6L2110.8,493.2L2112.8,492.9L2114.7,492.4" fill="none" stroke="#ACA000" stroke-width="10.0" stroke-linejoin="round" stroke-linecap="butt"/>
<path d="M343.7,497.9L345.7,497.9L347.7,497.8L349.7,497.8L351.7,497.8L353.7,497.8L355.7,497.8L357.7,497.8L359.7,497.8L361.7,497.8L363.7,497.8L365.7,497.8L367.7,497.8L369.7,497.8L371.7,497.8L373.8,497.8L375.8,497.8L377.8,497.8L379.8,497.8L381.8,497.7L383.8,497.7L385.8,497.7L387.8,497.7L389.8,497.7L391.8,497.7L393.8,497.7L395.8,497.7L397.8,497.7L399.8,497.7L401.8,497.7L403.8,497.7L405.8,497.7L407.8,497.7L409.8,497.7L411.8,497.7L413.8,497.7L415.8,497.7L417.8,497.7L419.8,497.7L421.8,497.7L423.8,497.7L425.8,497.7L427.8,497.7L429.8,497.7L431.8,497.7L433.8,497.7L435.8,497.7L437.8,497.7L439.8,497.7L441.8,497.7L443.8,497.7L445.8,497.7L447.8,497.7L449.9,497.7L451.9,497.7L453.9,497.7L455.9,497.7L457.9,497.7L459.9,497.7L461.9,497.7L463.9,497.7L465.9,497.7L467.9,497.7L469.9,497.7L471.9,497.7L473.9,497.7L475.9,497.7L477.9,497.7L479.9,497.7L481.9,497.7L483.9,497.7L485.9,497.7L487.9,497.7L489.9,497.7L491.9,497.7L493.9,497.7L495.9,497.7L497.9,497.7L499.9,497.7L501.9,497.7L503.9,497.7L505.9,497.7L507.9,497.7L509.9,497.7L511.9,497.7L513.9,497.7L515.9,497.7L517.9,497.7L519.9,497.7L521.9,497.7L523.9,497.7L526.0,497.6L528.0,497.6L530.0,497.6L532.0,497.6L534.0,497.6L536.0,497.6L538.0,497.6L540.0,497.6L542.0,497.6L544.0,497.6L546.0,497.6L548.0,497.6L550.0,497.6L552.0,497.6L554.0,497.5L556.0,497.5L558.0,497.5L560.0,497.5L562.0,497.5L564.0,497.5L566.0,497.5L568.0,497.5L570.0,497.5L572.0,497.4L574.0,497.4L576.0,497.4L578.0,497.4L580.0,497.4L582.0,497.4L584.0,497.4L586.0,497.3L588.0,497.3L590.0,497.3L592.0,497.3L594.0,497.3L596.0,497.3L598.0,497.2L600.0,497.2L602.1,497.2L604.1,497.2L606.1,497.2L608.1,497.1L610.1,497.1L612.1,497.1L614.1,497.1L616.1,497.1L618.1,497.0L620.1,497.0L622.1,497.0L624.1,497.0L626.1,496.9L628.1,496.9L630.1,496.9L632.1,496.8L634.1,496.8L636.1,496.8L638.1,496.8L640.1,496.7L642.1,496.7L644.1,496.7L646.1,496.6L648.1,496.6L650.1,496.6L652.1,496.5L654.1,496.5L656.1,496.5L658.1,496.4L660.1,496.4L662.1,496.3L664.1,496.3L666.1,496.3L668.1,496.2L670.1,496.2L672.1,496.1L674.1,496.1L676.1,496.1L678.1,496.0L680.1,496.0L682.1,495.9L684.2,495.9L686.2,495.8L688.2,495.8L690.2,495.7L692.2,495.7L694.2,495.6L696.2,495.6L698.2,495.5L700.2,495.5L702.2,495.4L704.2,495.4L706.2,495.3L708.2,495.3L710.2,495.2L712.2,495.1L714.2,495.1L716.2,495.0L718.2,495.0L720.2,494.9L722.2,494.8L724.2,494.8L726.2,494.7L728.2,494.6L730.2,494.6L732.2,494.5L734.2,494.4L736.2,494.4L738.2,494.3L740.2,494.2L742.2,494.1L744.2,494.1L746.2,494.0L748.2,493.9L750.2,493.8L752.2,493.8L754.2,493.7L756.2,493.6L758.2,493.5L760.2,493.4L762.2,493.4L764.2,493.3L766.2,493.2L768.2,493.1L770.2,493.0L772.2,492.9L774.2,492.8L776.2,492.8L778.2,492.7L780.2,492.6L782.2,492.5L784.2,492.4L786.2,492.3L788.2,492.2L790.2,492.1L792.2,492.0L794.2,491.9L796.2,491.8L798.2,491.7L800.2,491.6L802.2,491.5L804.2,491.4L806.2,491.3L808.2,491.2L810.2,491.0L812.2,490.9L814.2,490.8L816.2,490.7L818.2,490.6L820.2,490.5L822.2,490.4L824.2,490.2L826.2,490.1L828.2,490.0L830.2,489.9L832.2,489.8L834.2,489.6L836.2,489.5L838.2,489.4L840.2,489.3L842.2,489.1L844.2,489.0L846.2,488.9L848.2,488.7L850.2,488.6L852.2,488.5L854.2,488.3L856.2,488.2L858.2,488.1L860.2,487.9L862.2,487.8L864.2,487.7L866.2,487.5L868.2,487.4L870.2,487.3L872.2,487.1L874.2,487.0L876.2,486.9L878.2,486.7L880.2,486.6L882.2,486.5L884.2,486.3L886.2,486.2L888.2,486.1L890.2,485.9L892.2,485.8L894.2,485.7L896.2,485.6L898.2,485.4L900.2,485.3L902.2,485.2L904.2,485.0L906.2,484.9L908.2,484.8L910.1,484.7L912.1,484.6L914.1,484.4L916.1,484.3L918.1,484.2L920.1,484.1L922.1,484.0L924.1,483.9L926.1,483.7L928.1,483.6L930.1,483.5L932.1,483.4L934.1,483.3L936.1,483.2L938.1,483.1L940.1,483.0L942.1,482.9L944.1,482.8L946.1,482.7L948.1,482.6L950.1,482.6L952.1,482.5L954.1,482.4L956.1,482.3L958.2,482.2L960.2,482.2L962.2,482.1L964.2,482.0L966.2,481.9L968.2,481.9L970.2,481.8L972.2,481.8L974.2,481.7L976.2,481.7L978.2,481.6L980.2,481.6L982.2,481.5L984.2,481.5L986.2,481.5L988.2,481.4L990.2,481.4L992.2,481.4L994.2,481.4L996.2,481.3L998.2,481.3L1000.2,481.3L1002.2,481.3L1004.2,481.3L1006.2,481.3L1008.2,481.3L1010.2,481.3L1012.2,481.3L1014.2,481.3L1016.2,481.3L1018.2,481.3L1020.2,481.3L1022.2,481.3L1024.2,481.3L1026.2,481.4L1028.2,481.4L1030.2,481.4L1032.2,481.4L1034.2,481.4L1036.2,481.4L1038.2,481.4L1040.2,481.4L1042.2,481.4L1044.3,481.4L1046.3,481.4L1048.3,481.4L1050.3,481.4L1052.3,481.4L1054.3,481.3L1056.3,481.3L1058.3,481.3L1060.3,481.3L1062.3,481.3L1064.3,481.2L1066.3,481.2L1068.3,481.1L1070.3,481.1L1072.3,481.0L1074.3,481.0L1076.3,480.9L1078.3,480.8L1080.3,480.8L1082.3,480.7L1084.3,480.6L1086.3,480.5L1088.3,480.4L1090.3,480.3L1092.3,480.1L1094.3,480.0L1096.3,479.9L1098.3,479.7L1100.3,479.6L1102.3,479.4L1104.3,479.2L1106.3,479.1L1108.3,478.9L1110.3,478.7L1112.2,478.4L1114.2,478.2L1116.2,478.0L1118.2,477.7L1120.2,477.5L1122.2,477.2L1124.2,476.9L1126.1,476.6L1128.1,476.3L1130.1,475.9L1132.1,475.6L1134.0,475.2L1136.0,474.8L1138.0,474.4L1139.9,474.0L1141.9,473.5L1143.8,473.1L1145.8,472.6L1147.7,472.1L1149.6,471.6L1151.6,471.0L1153.5,470.5L1155.4,469.9L1157.3,469.3L1159.2,468.7L1161.1,468.0L1163.0,467.4L1164.9,466.7L1166.7,466.0L1168.6,465.2L1170.5,464.5L1172.3,463.7L1174.1,462.9L1175.9,462.0L1177.8,461.1L1179.5,460.2L1181.3,459.3L1183.1,458.4L1184.8,457.4L1186.6,456.4L1188.3,455.4L1190.0,454.3L1191.7,453.2L1193.3,452.1L1195.0,451.0L1196.6,449.8L1198.2,448.6L1199.8,447.4L1201.3,446.1L1202.9,444.8L1204.4,443.5L1205.9,442.2L1207.4,440.8L1208.8,439.5L1210.3,438.1L1211.7,436.7L1213.1,435.2L1214.5,433.8L1215.8,432.3L1217.1,430.8L1218.4,429.3L1219.7,427.7L1221.0,426.2L1222.2,424.6L1223.4,423.0L1224.6,421.4L1225.7,419.7L1226.9,418.1L1228.0,416.4L1229.1,414.7L1230.1,413.0L1231.2,411.3L1232.2,409.6L1233.1,407.8L1234.1,406.1L1235.0,404.3L1235.9,402.5L1236.8,400.7L1237.6,398.9L1238.5,397.1L1239.3,395.2L1240.0,393.4L1240.8,391.5L1241.6,389.7L1242.3,387.8L1243.0,386.0L1243.8,384.1L1244.5,382.2L1245.2,380.4L1245.9,378.5L1246.7,376.6L1247.4,374.8L1248.1,372.9L1248.9,371.0L1249.7,369.2L1250.4,367.3L1251.2,365.5L1252.0,363.7L1252.9,361.9L1253.7,360.0L1254.6,358.2L1255.5,356.5L1256.5,354.7L1257.5,353.0L1258.5,351.2L1259.5,349.5L1260.6,347.8L1261.7,346.2L1262.9,344.5L1264.1,342.9L1265.3,341.4L1266.6,339.8L1268.0,338.3L1269.4,336.9L1270.8,335.5L1272.4,334.3L1274.0,333.1L1275.7,332.0L1277.4,331.1L1279.3,330.3L1281.2,329.8L1283.2,329.4L1285.2,329.2L1287.2,329.3L1289.2,329.5L1291.1,329.9L1293.1,330.5L1294.9,331.2L1296.8,332.0L1298.5,333.0L1300.2,334.0L1301.8,335.3L1303.3,336.6L1304.7,338.0L1306.1,339.5L1307.3,341.0L1308.5,342.6L1309.6,344.3L1310.7,346.0L1311.7,347.7L1312.7,349.5L1313.6,351.2L1314.5,353.0L1315.4,354.8L1316.3,356.6L1317.1,358.4L1318.0,360.3L1318.8,362.1L1319.7,363.9L1320.6,365.7L1321.5,367.4L1322.4,369.2L1323.3,371.0L1324.3,372.8L1325.2,374.6L1326.1,376.3L1327.1,378.1L1328.1,379.8L1329.0,381.6L1330.0,383.3L1331.0,385.1L1332.0,386.8L1333.0,388.5L1334.1,390.2L1335.1,392.0L1336.1,393.7L1337.2,395.4L1338.2,397.1L1339.3,398.8L1340.3,400.5L1341.4,402.2L1342.5,403.9L1343.5,405.6L1344.6,407.3L1345.7,408.9L1346.8,410.6L1347.9,412.3L1349.0,414.0L1350.1,415.6L1351.2,417.3L1352.3,419.0L1353.4,420.6L1354.6,422.3L1355.7,424.0L1356.8,425.6L1357.9,427.3L1359.1,428.9L1360.2,430.6L1361.3,432.2L1362.4,433.9L1363.6,435.6L1364.7,437.2L1365.8,438.9L1366.9,440.5L1368.0,442.2L1369.2,443.8L1370.3,445.5L1371.4,447.2L1372.5,448.8L1373.6,450.5L1374.7,452.2L1375.8,453.8L1376.9,455.5L1378.0,457.2L1379.1,458.9L1380.2,460.6L1381.3,462.2L1382.3,463.9L1383.4,465.6L1384.5,467.3L1385.5,469.0L1386.6,470.8L1387.6,472.5L1388.6,474.2L1389.6,475.9L1390.7,477.6L1391.7,479.4L1392.6,481.1L1393.6,482.9L1394.6,484.6L1395.6,486.4L1396.5,488.1L1397.4,489.9L1398.4,491.7L1399.3,493.5L1400.2,495.3L1401.1,497.1L1401.9,498.9L1402.8,500.7L1403.6,502.5L1404.4,504.3L1405.3,506.1L1406.1,508.0L1406.8,509.8L1407.6,511.7L1408.4,513.5L1409.1,515.4L1409.9,517.2L1410.6,519.1L1411.3,521.0L1412.1,522.8L1412.8,524.7L1413.5,526.6L1414.2,528.5L1414.9,530.3L1415.6,532.2L1416.2,534.1L1416.9,536.0L1417.6,537.9L1418.3,539.7L1419.0,541.6L1419.7,543.5L1420.3,545.4L1421.0,547.3L1421.7,549.2L1422.4,551.0L1423.1,552.9L1423.8,554.8L1424.5,556.7L1425.2,558.5L1425.9,560.4L1426.6,562.3L1427.3,564.2L1428.1,566.0L1428.8,567.9L1429.6,569.7L1430.4,571.6L1431.1,573.4L1432.0,575.2L1432.8,577.1L1433.6,578.9L1434.5,580.7L1435.4,582.5L1436.3,584.3L1437.3,586.0L1438.2,587.8L1439.2,589.5L1440.2,591.2L1441.3,592.9L1442.4,594.6L1443.5,596.3L1444.7,597.9L1445.8,599.5L1447.0,601.1L1448.3,602.7L1449.6,604.2L1450.9,605.7L1452.3,607.2L1453.8,608.5L1455.4,609.7L1457.2,610.6L1459.1,611.3L1461.0,611.6L1463.0,611.4L1465.0,610.9L1466.8,610.1L1468.6,609.2L1470.3,608.2L1472.0,607.1L1473.5,605.8L1475.0,604.5L1476.5,603.0L1477.8,601.6L1479.1,600.1L1480.4,598.5L1481.6,596.9L1482.8,595.3L1483.9,593.6L1485.0,592.0L1486.1,590.3L1487.2,588.6L1488.3,586.9L1489.3,585.2L1490.4,583.5L1491.4,581.8L1492.4,580.1L1493.4,578.3L1494.4,576.6L1495.4,574.8L1496.4,573.1L1497.4,571.4L1498.3,569.6L1499.3,567.9L1500.3,566.1L1501.3,564.4L1502.3,562.6L1503.3,560.9L1504.3,559.2L1505.3,557.4L1506.3,555.7L1507.3,554.0L1508.4,552.3L1509.5,550.6L1510.6,548.9L1511.7,547.3L1512.8,545.6L1514.0,544.0L1515.1,542.4L1516.3,540.8L1517.6,539.2L1518.9,537.6L1520.1,536.1L1521.5,534.6L1522.8,533.1L1524.2,531.7L1525.7,530.3L1527.2,529.0L1528.7,527.6L1530.2,526.4L1531.8,525.1L1533.4,523.9L1535.0,522.7L1536.6,521.6L1538.3,520.4L1539.9,519.3L1541.6,518.2L1543.3,517.2L1545.0,516.1L1546.7,515.1L1548.5,514.1L1550.2,513.1L1551.9,512.1L1553.6,511.1L1555.4,510.1L1557.1,509.1L1558.9,508.1L1560.6,507.1L1562.3,506.1L1564.1,505.0L1565.8,504.0L1567.5,503.0L1569.2,501.9L1570.9,500.9L1572.6,499.8L1574.2,498.7L1575.9,497.5L1577.5,496.4L1579.1,495.2L1580.7,494.0L1582.3,492.8L1583.9,491.5L1585.4,490.2L1587.0,489.0L1588.5,487.6L1590.0,486.3L1591.5,485.0L1592.9,483.6L1594.4,482.2L1595.8,480.8L1597.2,479.4L1598.6,477.9L1599.9,476.4L1601.3,475.0L1602.6,473.4L1603.9,471.9L1605.2,470.4L1606.4,468.8L1607.7,467.3L1608.9,465.7L1610.1,464.1L1611.3,462.4L1612.4,460.8L1613.6,459.2L1614.7,457.5L1615.8,455.8L1616.9,454.1L1617.9,452.4L1618.9,450.7L1619.9,449.0L1620.9,447.3L1621.9,445.5L1622.9,443.8L1623.9,442.0L1624.8,440.2L1625.8,438.5L1626.7,436.7L1627.6,434.9L1628.6,433.2L1629.5,431.4L1630.5,429.6L1631.4,427.9L1632.4,426.1L1633.4,424.4L1634.4,422.6L1635.4,420.9L1636.4,419.2L1637.5,417.5L1638.5,415.8L1639.6,414.1L1640.7,412.4L1641.8,410.8L1643.0,409.1L1644.2,407.5L1645.4,405.9L1646.6,404.4L1647.9,402.8L1649.3,401.3L1650.6,399.9L1652.1,398.5L1653.7,397.3L1655.3,396.1L1657.0,395.1L1658.8,394.2L1660.7,393.6L1662.7,393.2L1664.7,393.1L1666.7,393.4L1668.6,393.8L1670.5,394.5L1672.3,395.3L1674.1,396.2L1675.8,397.3L1677.4,398.5L1678.9,399.8L1680.3,401.3L1681.6,402.8L1682.9,404.3L1684.0,406.0L1685.1,407.7L1686.1,409.4L1687.0,411.2L1687.9,413.0L1688.8,414.8L1689.6,416.6L1690.3,418.4L1691.1,420.3L1691.8,422.2L1692.6,424.0L1693.3,425.9L1694.1,427.7L1694.9,429.6L1695.6,431.4L1696.4,433.3L1697.2,435.1L1697.9,437.0L1698.7,438.8L1699.4,440.7L1700.2,442.6L1700.9,444.4L1701.7,446.3L1702.4,448.1L1703.1,450.0L1703.8,451.9L1704.5,453.8L1705.2,455.6L1705.9,457.5L1706.6,459.4L1707.2,461.3L1707.9,463.2L1708.5,465.1L1709.2,467.0L1709.8,468.9L1710.5,470.8L1711.1,472.7L1711.7,474.6L1712.3,476.5L1712.9,478.4L1713.5,480.3L1714.1,482.2L1714.7,484.1L1715.3,486.0L1715.9,488.0L1716.5,489.9L1717.1,491.8L1717.6,493.7L1718.2,495.6L1718.8,497.6L1719.3,499.5L1719.9,501.4L1720.4,503.3L1721.0,505.3L1721.5,507.2L1722.1,509.1L1722.6,511.0L1723.2,513.0L1723.7,514.9L1724.2,516.8L1724.8,518.7L1725.3,520.7L1725.8,522.6L1726.4,524.5L1726.9,526.5L1727.4,528.4L1728.0,530.3L1728.5,532.3L1729.0,534.2L1729.5,536.1L1730.1,538.1L1730.6,540.0L1731.1,541.9L1731.7,543.8L1732.2,545.8L1732.7,547.7L1733.3,549.6L1733.8,551.6L1734.4,553.5L1734.9,555.4L1735.4,557.4L1736.0,559.3L1736.5,561.2L1737.0,563.1L1737.6,565.1L1738.1,567.0L1738.7,568.9L1739.2,570.9L1739.8,572.8L1740.3,574.7L1740.8,576.6L1741.4,578.6L1741.9,580.5L1742.5,582.4L1743.0,584.3L1743.6,586.3L1744.1,588.2L1744.7,590.1L1745.2,592.0L1745.8,594.0L1746.3,595.9L1746.9,597.8L1747.5,599.7L1748.0,601.7L1748.6,603.6L1749.1,605.5L1749.7,607.4L1750.2,609.4L1750.8,611.3L1751.4,613.2L1751.9,615.1L1752.5,617.0L1753.1,619.0L1753.6,620.9L1754.2,622.8L1754.8,624.7L1755.3,626.7L1755.9,628.6L1756.5,630.5L1757.0,632.4L1757.6,634.3L1758.2,636.2L1758.8,638.2L1759.3,640.1L1759.9,642.0L1760.5,643.9L1761.1,645.8L1761.6,647.8L1762.2,649.7L1762.8,651.6L1763.4,653.5L1764.0,655.4L1764.6,657.3L1765.1,659.3L1765.7,661.2L1766.3,663.1L1766.9,665.0L1767.5,666.9L1768.1,668.8L1768.7,670.7L1769.3,672.6L1769.9,674.6L1770.5,676.5L1771.1,678.4L1771.7,680.3L1772.3,682.2L1772.9,684.1L1773.5,686.0L1774.1,687.9L1774.7,689.8L1775.3,691.8L1775.9,693.7L1776.5,695.6L1777.1,697.5L1777.7,699.4L1778.3,701.3L1779.0,703.2L1779.6,705.1L1780.2,707.0L1780.9,708.9L1781.5,710.8L1782.2,712.7L1782.8,714.6L1783.5,716.4L1784.2,718.3L1784.9,720.2L1785.6,722.1L1786.4,723.9L1787.1,725.8L1787.9,727.6L1788.7,729.5L1789.5,731.3L1790.3,733.1L1791.1,735.0L1792.0,736.8L1792.9,738.6L1793.8,740.3L1794.7,742.1L1795.7,743.9L1796.6,745.6L1797.6,747.4L1798.7,749.1L1799.7,750.8L1800.8,752.5L1801.9,754.2L1803.0,755.8L1804.1,757.5L1805.3,759.1L1806.5,760.7L1807.8,762.3L1809.1,763.8L1810.5,765.2L1811.9,766.6L1813.5,767.8L1815.1,769.0L1816.9,769.9L1818.8,770.6L1820.7,771.1L1822.7,771.3L1824.7,771.3L1826.7,771.0L1828.6,770.5L1830.5,769.8L1832.3,769.0L1834.1,768.0L1835.7,766.8L1837.2,765.5L1838.5,764.0L1839.8,762.4L1840.9,760.7L1841.9,759.0L1842.8,757.2L1843.7,755.4L1844.5,753.6L1845.3,751.8L1846.2,750.0L1847.0,748.2L1847.9,746.3L1848.7,744.5L1849.6,742.7L1850.4,740.9L1851.3,739.1L1852.1,737.3L1853.0,735.5L1853.8,733.7L1854.7,731.9L1855.5,730.0L1856.4,728.2L1857.3,726.4L1858.1,724.6L1859.0,722.8L1859.8,721.0L1860.7,719.2L1861.5,717.4L1862.4,715.5L1863.2,713.7L1864.1,711.9L1864.9,710.1L1865.7,708.3L1866.6,706.5L1867.4,704.6L1868.2,702.8L1869.1,701.0L1869.9,699.2L1870.7,697.3L1871.5,695.5L1872.3,693.7L1873.1,691.8L1873.9,690.0L1874.7,688.1L1875.4,686.3L1876.2,684.4L1877.0,682.6L1877.7,680.7L1878.5,678.9L1879.2,677.0L1880.0,675.2L1880.7,673.3L1881.5,671.4L1882.2,669.6L1882.9,667.7L1883.6,665.9L1884.4,664.0L1885.1,662.1L1885.8,660.2L1886.5,658.4L1887.2,656.5L1887.9,654.6L1888.6,652.7L1889.3,650.9L1890.0,649.0L1890.7,647.1L1891.4,645.2L1892.1,643.4L1892.8,641.5L1893.5,639.6L1894.2,637.7L1894.9,635.8L1895.6,634.0L1896.2,632.1L1896.9,630.2L1897.6,628.3L1898.3,626.4L1899.0,624.6L1899.7,622.7L1900.4,620.8L1901.1,618.9L1901.8,617.0L1902.5,615.2L1903.2,613.3L1903.9,611.4L1904.6,609.5L1905.3,607.7L1906.0,605.8L1906.7,603.9L1907.4,602.1L1908.2,600.2L1908.9,598.3L1909.6,596.4L1910.3,594.6L1911.1,592.7L1911.8,590.9L1912.6,589.0L1913.3,587.1L1914.1,585.3L1914.8,583.4L1915.6,581.6L1916.4,579.7L1917.1,577.9L1917.9,576.1L1918.7,574.2L1919.5,572.4L1920.3,570.5L1921.1,568.7L1922.0,566.9L1922.8,565.1L1923.6,563.2L1924.5,561.4L1925.3,559.6L1926.2,557.8L1927.0,556.0L1927.9,554.2L1928.8,552.4L1929.7,550.6L1930.6,548.8L1931.5,547.0L1932.4,545.3L1933.3,543.5L1934.3,541.7L1935.2,539.9L1936.2,538.2L1937.2,536.4L1938.1,534.7L1939.1,532.9L1940.1,531.2L1941.1,529.5L1942.2,527.8L1943.2,526.0L1944.2,524.3L1945.3,522.6L1946.4,520.9L1947.4,519.3L1948.5,517.6L1949.6,515.9L1950.8,514.2L1951.9,512.6L1953.1,511.0L1954.2,509.3L1955.4,507.7L1956.6,506.1L1957.9,504.6L1959.1,503.0L1960.4,501.5L1961.7,499.9L1963.0,498.4L1964.4,497.0L1965.8,495.5L1967.2,494.1L1968.6,492.7L1970.0,491.3L1971.5,490.0L1973.0,488.6L1974.6,487.4L1976.2,486.1L1977.8,484.9L1979.4,483.8L1981.1,482.7L1982.7,481.6L1984.5,480.5L1986.2,479.6L1988.0,478.6L1989.8,477.8L1991.6,476.9L1993.5,476.1L1995.3,475.4L1997.2,474.8L1999.1,474.1L2001.0,473.5L2003.0,473.0L2004.9,472.5L2006.9,472.1L2008.8,471.7L2010.8,471.3L2012.8,471.0L2014.8,470.8L2016.7,470.5L2018.7,470.3L2020.7,470.2L2022.7,470.1L2024.7,470.0L2026.7,470.0L2028.7,470.0L2030.7,470.1L2032.7,470.1L2034.7,470.3L2036.7,470.4L2038.7,470.6L2040.7,470.9L2042.7,471.2L2044.7,471.5L2046.7,471.8L2048.6,472.2L2050.6,472.6L2052.5,473.0L2054.5,473.5L2056.4,473.9L2058.4,474.4L2060.3,475.0L2062.2,475.5L2064.1,476.1L2066.1,476.7L2068.0,477.3L2069.9,477.9L2071.8,478.6L2073.7,479.2L2075.5,479.9L2077.4,480.6L2079.3,481.3L2081.2,482.0L2083.0,482.7L2084.9,483.4L2086.8,484.2L2088.6,484.9L2090.5,485.6L2092.4,486.4L2094.2,487.1L2096.1,487.9L2097.9,488.6L2099.8,489.4L2101.6,490.1L2103.5,490.9L2105.4,491.6L2107.2,492.4L2109.1,493.1L2111.0,493.8L2112.8,494.5L2114.7,495.2" fill="none" stroke="#006000" stroke-width="10.0" stroke-linejoin="round" stroke-linecap="butt"/>
<line x1="492" y1="755.8" x2="647" y2="755.8" stroke="#BE0058" stroke-width="14" stroke-linecap="round"/>
<line x1="492" y1="838.0" x2="647" y2="838.0" stroke="#BC00CC" stroke-width="14" stroke-linecap="round"/>
<line x1="492" y1="920.7" x2="647" y2="920.7" stroke="#ACA000" stroke-width="14" stroke-linecap="round"/>
<line x1="492" y1="1003.7" x2="647" y2="1003.7" stroke="#006000" stroke-width="14" stroke-linecap="round"/>
</svg></body></html>
